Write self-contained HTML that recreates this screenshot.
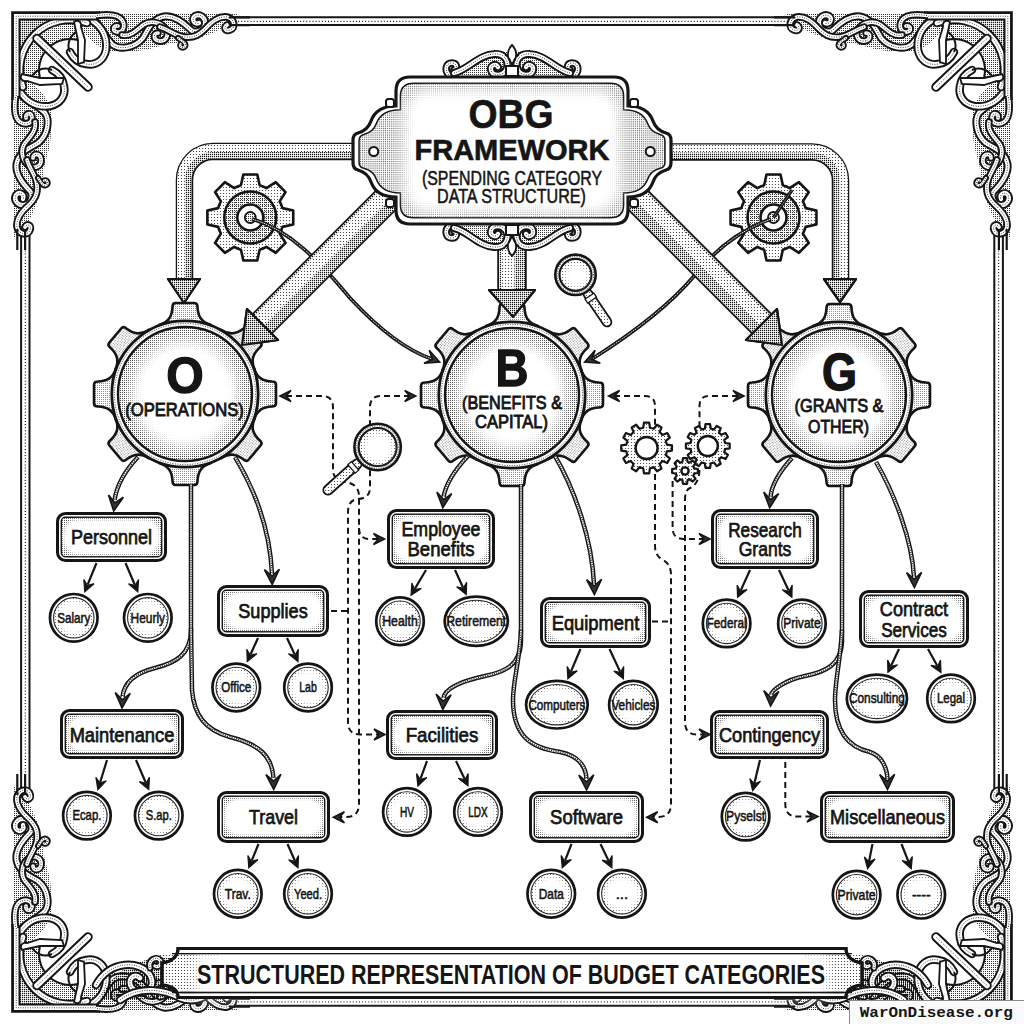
<!DOCTYPE html><html><head><meta charset="utf-8"><title>OBG Framework</title><style>html,body{margin:0;padding:0;background:#fff;overflow:hidden}svg{display:block}text{font-family:"Liberation Sans",sans-serif;fill:#151515}.bt{font-weight:bold}.bx{stroke:#151515;stroke-width:0.75}.ct{stroke:#151515;stroke-width:0.55}.md{stroke:#151515;stroke-width:0.5}.hv{font-weight:bold;stroke:#151515;stroke-width:1.3}.sb{stroke:#151515;stroke-width:0.85}.hv2{font-weight:bold;stroke:#151515;stroke-width:0.6}.wm{font-family:"Liberation Mono",monospace;font-weight:bold}</style></head><body>
<svg width="1024" height="1024" viewBox="0 0 1024 1024">
<defs>
<pattern id="dotsC" width="3" height="3" patternUnits="userSpaceOnUse"><circle cx="1.5" cy="1.5" r="0.6" fill="#222"/></pattern>
<pattern id="dotsP" width="2" height="2" patternUnits="userSpaceOnUse"><circle cx="0.5" cy="0.5" r="0.66" fill="#1a1a1a"/></pattern>
<pattern id="dotsB" width="2" height="2" patternUnits="userSpaceOnUse"><circle cx="0.5" cy="0.5" r="0.5" fill="#222"/></pattern>
<pattern id="dotsF" width="2" height="2" patternUnits="userSpaceOnUse"><circle cx="0.5" cy="0.5" r="0.52" fill="#222"/></pattern>
<pattern id="dotsT" width="2" height="2" patternUnits="userSpaceOnUse"><circle cx="0.5" cy="0.5" r="0.46" fill="#222"/></pattern>
<pattern id="dotsD" width="2" height="2" patternUnits="userSpaceOnUse"><circle cx="0.5" cy="0.5" r="0.78" fill="#111"/></pattern>
<clipPath id="cornerClip"><path d="M0 0 L150 0 L0 150 Z"/></clipPath>
<pattern id="dotsM" width="2" height="2" patternUnits="userSpaceOnUse"><circle cx="0.5" cy="0.5" r="0.56" fill="#222"/></pattern>
<pattern id="dotsL" width="3" height="3" patternUnits="userSpaceOnUse"><circle cx="1.5" cy="1.5" r="0.62" fill="#333"/></pattern>
<filter id="bl15" x="-40%" y="-40%" width="180%" height="180%"><feGaussianBlur stdDeviation="1.5"/></filter>
<filter id="bl2" x="-40%" y="-40%" width="180%" height="180%"><feGaussianBlur stdDeviation="2"/></filter>
<filter id="bl3" x="-40%" y="-40%" width="180%" height="180%"><feGaussianBlur stdDeviation="3"/></filter>
<filter id="bl6" x="-40%" y="-40%" width="180%" height="180%"><feGaussianBlur stdDeviation="6"/></filter>
<filter id="bl9" x="-40%" y="-40%" width="180%" height="180%"><feGaussianBlur stdDeviation="9"/></filter>
</defs>
<rect width="1024" height="1024" fill="#fff"/>
<g fill="none" stroke="#151515">
<line x1="235" y1="17.3" x2="789" y2="17.3" stroke-width="2"/><line x1="235" y1="25.1" x2="789" y2="25.1" stroke-width="2"/>
<line x1="235" y1="21.3" x2="789" y2="21.3" stroke-width="1.2" stroke-dasharray="1 2.1"/>
<line x1="21.1" y1="235" x2="21.1" y2="789" stroke-width="2"/><line x1="29.5" y1="235" x2="29.5" y2="789" stroke-width="2"/>
<line x1="25.3" y1="235" x2="25.3" y2="789" stroke-width="1.2" stroke-dasharray="1 2.1"/>
<line x1="1002.9" y1="235" x2="1002.9" y2="789" stroke-width="2"/><line x1="994.3" y1="235" x2="994.3" y2="789" stroke-width="2"/>
<line x1="998.6" y1="235" x2="998.6" y2="789" stroke-width="1.2" stroke-dasharray="1 2.1"/>
<line x1="235" y1="1005.8" x2="789" y2="1005.8" stroke-width="2"/><line x1="235" y1="997.4" x2="789" y2="997.4" stroke-width="2.4"/>
<line x1="235" y1="1001.8" x2="789" y2="1001.8" stroke-width="1.2" stroke-dasharray="1 2.1"/>
</g>
<g><g><path d="M14 14 L238 14 C232 22 222 30 205 36 C190 42 175 42 160 46 C145 51 125 53 110 51 C98 49 92 40 82 32 L60 22 Z" fill="url(#dotsM)"/>
<path d="M60 16.5 C75 16 85 16 90 17 C100 22 105 38 113 45 C120 50 135 48 143 38 C149 28 152 19 164 16.5 C175 15 185 24 191 30 C196 34 204 30 205 24 C206 18 200 13 195 16 C191 19 194 25 199 23" stroke="#151515" stroke-width="8" fill="none" stroke-linecap="round"/><path d="M60 16.5 C75 16 85 16 90 17 C100 22 105 38 113 45 C120 50 135 48 143 38 C149 28 152 19 164 16.5 C175 15 185 24 191 30 C196 34 204 30 205 24 C206 18 200 13 195 16 C191 19 194 25 199 23" stroke="#fff" stroke-width="4.2" fill="none" stroke-linecap="round"/><path d="M60 16.5 C75 16 85 16 90 17 C100 22 105 38 113 45 C120 50 135 48 143 38 C149 28 152 19 164 16.5 C175 15 185 24 191 30 C196 34 204 30 205 24 C206 18 200 13 195 16 C191 19 194 25 199 23" stroke="#151515" stroke-width="0.9" fill="none" stroke-dasharray="0.9 1.5"/>
<path d="M97 15.5 C108 14 118 14 122 20 C126 26 123 33 117 32 C112 31 113 25 118 26" stroke="#151515" stroke-width="7.5" fill="none" stroke-linecap="round"/><path d="M97 15.5 C108 14 118 14 122 20 C126 26 123 33 117 32 C112 31 113 25 118 26" stroke="#fff" stroke-width="3.7" fill="none" stroke-linecap="round"/><path d="M97 15.5 C108 14 118 14 122 20 C126 26 123 33 117 32 C112 31 113 25 118 26" stroke="#151515" stroke-width="0.9" fill="none" stroke-dasharray="0.9 1.5"/>
<path d="M122 35 C130 37 137 30 143 25 C150 20 160 22 165 28 C170 35 166 42 159 41 C153 40 153 33 158 33" stroke="#151515" stroke-width="7.5" fill="none" stroke-linecap="round"/><path d="M122 35 C130 37 137 30 143 25 C150 20 160 22 165 28 C170 35 166 42 159 41 C153 40 153 33 158 33" stroke="#fff" stroke-width="3.7" fill="none" stroke-linecap="round"/><path d="M122 35 C130 37 137 30 143 25 C150 20 160 22 165 28 C170 35 166 42 159 41 C153 40 153 33 158 33" stroke="#151515" stroke-width="0.9" fill="none" stroke-dasharray="0.9 1.5"/>
<path d="M160 27 C170 30 175 36 185 37 C195 38 200 34 205 29 C212 21 220 16 227 17 C235 19 236 28 230 30 C225 32 223 27 227 25" stroke="#151515" stroke-width="7.5" fill="none" stroke-linecap="round"/><path d="M160 27 C170 30 175 36 185 37 C195 38 200 34 205 29 C212 21 220 16 227 17 C235 19 236 28 230 30 C225 32 223 27 227 25" stroke="#fff" stroke-width="3.7" fill="none" stroke-linecap="round"/><path d="M160 27 C170 30 175 36 185 37 C195 38 200 34 205 29 C212 21 220 16 227 17 C235 19 236 28 230 30 C225 32 223 27 227 25" stroke="#151515" stroke-width="0.9" fill="none" stroke-dasharray="0.9 1.5"/>
<path d="M178 38 C182 41 187 43 185 46.5 C183 49 179 47 180.5 44" stroke="#151515" stroke-width="6" fill="none" stroke-linecap="round"/><path d="M178 38 C182 41 187 43 185 46.5 C183 49 179 47 180.5 44" stroke="#fff" stroke-width="2.2" fill="none" stroke-linecap="round"/><path d="M178 38 C182 41 187 43 185 46.5 C183 49 179 47 180.5 44" stroke="#151515" stroke-width="0.9" fill="none" stroke-dasharray="0.9 1.5"/>
<path d="M229 17.3 L250 17.3 M229 25.1 L250 25.1" stroke="#151515" stroke-width="2.2"/></g>
<g transform="matrix(0 1 1 0 0 0)"><path d="M14 14 L238 14 C232 22 222 30 205 36 C190 42 175 42 160 46 C145 51 125 53 110 51 C98 49 92 40 82 32 L60 22 Z" fill="url(#dotsM)"/>
<path d="M60 16.5 C75 16 85 16 90 17 C100 22 105 38 113 45 C120 50 135 48 143 38 C149 28 152 19 164 16.5 C175 15 185 24 191 30 C196 34 204 30 205 24 C206 18 200 13 195 16 C191 19 194 25 199 23" stroke="#151515" stroke-width="8" fill="none" stroke-linecap="round"/><path d="M60 16.5 C75 16 85 16 90 17 C100 22 105 38 113 45 C120 50 135 48 143 38 C149 28 152 19 164 16.5 C175 15 185 24 191 30 C196 34 204 30 205 24 C206 18 200 13 195 16 C191 19 194 25 199 23" stroke="#fff" stroke-width="4.2" fill="none" stroke-linecap="round"/><path d="M60 16.5 C75 16 85 16 90 17 C100 22 105 38 113 45 C120 50 135 48 143 38 C149 28 152 19 164 16.5 C175 15 185 24 191 30 C196 34 204 30 205 24 C206 18 200 13 195 16 C191 19 194 25 199 23" stroke="#151515" stroke-width="0.9" fill="none" stroke-dasharray="0.9 1.5"/>
<path d="M97 15.5 C108 14 118 14 122 20 C126 26 123 33 117 32 C112 31 113 25 118 26" stroke="#151515" stroke-width="7.5" fill="none" stroke-linecap="round"/><path d="M97 15.5 C108 14 118 14 122 20 C126 26 123 33 117 32 C112 31 113 25 118 26" stroke="#fff" stroke-width="3.7" fill="none" stroke-linecap="round"/><path d="M97 15.5 C108 14 118 14 122 20 C126 26 123 33 117 32 C112 31 113 25 118 26" stroke="#151515" stroke-width="0.9" fill="none" stroke-dasharray="0.9 1.5"/>
<path d="M122 35 C130 37 137 30 143 25 C150 20 160 22 165 28 C170 35 166 42 159 41 C153 40 153 33 158 33" stroke="#151515" stroke-width="7.5" fill="none" stroke-linecap="round"/><path d="M122 35 C130 37 137 30 143 25 C150 20 160 22 165 28 C170 35 166 42 159 41 C153 40 153 33 158 33" stroke="#fff" stroke-width="3.7" fill="none" stroke-linecap="round"/><path d="M122 35 C130 37 137 30 143 25 C150 20 160 22 165 28 C170 35 166 42 159 41 C153 40 153 33 158 33" stroke="#151515" stroke-width="0.9" fill="none" stroke-dasharray="0.9 1.5"/>
<path d="M160 27 C170 30 175 36 185 37 C195 38 200 34 205 29 C212 21 220 16 227 17 C235 19 236 28 230 30 C225 32 223 27 227 25" stroke="#151515" stroke-width="7.5" fill="none" stroke-linecap="round"/><path d="M160 27 C170 30 175 36 185 37 C195 38 200 34 205 29 C212 21 220 16 227 17 C235 19 236 28 230 30 C225 32 223 27 227 25" stroke="#fff" stroke-width="3.7" fill="none" stroke-linecap="round"/><path d="M160 27 C170 30 175 36 185 37 C195 38 200 34 205 29 C212 21 220 16 227 17 C235 19 236 28 230 30 C225 32 223 27 227 25" stroke="#151515" stroke-width="0.9" fill="none" stroke-dasharray="0.9 1.5"/>
<path d="M178 38 C182 41 187 43 185 46.5 C183 49 179 47 180.5 44" stroke="#151515" stroke-width="6" fill="none" stroke-linecap="round"/><path d="M178 38 C182 41 187 43 185 46.5 C183 49 179 47 180.5 44" stroke="#fff" stroke-width="2.2" fill="none" stroke-linecap="round"/><path d="M178 38 C182 41 187 43 185 46.5 C183 49 179 47 180.5 44" stroke="#151515" stroke-width="0.9" fill="none" stroke-dasharray="0.9 1.5"/>
<path d="M229 17.3 L250 17.3 M229 25.1 L250 25.1" stroke="#151515" stroke-width="2.2"/></g>
<path d="M14 14 L60 14 L60 22 C40 26 26 40 22 60 L14 60 Z" fill="url(#dotsD)"/>
<path d="M26.8 85.7 A46 46 0 0 1 85.7 26.8 L80.6 40.9 A31 31 0 0 0 40.9 80.6 Z" fill="url(#dotsM)"/>
<path d="M40.9 80.6 A31 31 0 0 1 80.6 40.9" fill="none" stroke="#151515" stroke-width="2"/>
<path d="M84 17 C100 22 108 35 106 50 C104 60 96 66 86 64 C78 63 73 58 70 52" stroke="#151515" stroke-width="8.5" fill="none" stroke-linecap="round"/><path d="M84 17 C100 22 108 35 106 50 C104 60 96 66 86 64 C78 63 73 58 70 52" stroke="#fff" stroke-width="4.7" fill="none" stroke-linecap="round"/><path d="M84 17 C100 22 108 35 106 50 C104 60 96 66 86 64 C78 63 73 58 70 52" stroke="#151515" stroke-width="0.9" fill="none" stroke-dasharray="0.9 1.5"/>
<path d="M17 84 C22 100 35 108 50 106 C60 104 66 96 64 86 C63 78 58 73 52 70" stroke="#151515" stroke-width="8.5" fill="none" stroke-linecap="round"/><path d="M17 84 C22 100 35 108 50 106 C60 104 66 96 64 86 C63 78 58 73 52 70" stroke="#fff" stroke-width="4.7" fill="none" stroke-linecap="round"/><path d="M17 84 C22 100 35 108 50 106 C60 104 66 96 64 86 C63 78 58 73 52 70" stroke="#151515" stroke-width="0.9" fill="none" stroke-dasharray="0.9 1.5"/>
<path d="M70 52 C66 44 70 34 80 30" fill="none" stroke="#151515" stroke-width="2"/>
<path d="M52 70 C44 66 34 70 30 80" fill="none" stroke="#151515" stroke-width="2"/>
<path d="M23.0 87.1 A50 50 0 0 1 87.1 23.0" stroke="#151515" stroke-width="8.5" fill="none" stroke-linecap="round"/><path d="M23.0 87.1 A50 50 0 0 1 87.1 23.0" stroke="#fff" stroke-width="4.7" fill="none" stroke-linecap="round"/><path d="M23.0 87.1 A50 50 0 0 1 87.1 23.0" stroke="#151515" stroke-width="0.9" fill="none" stroke-dasharray="0.9 1.5"/>
<path d="M16.2 96 L16.2 16.2 L96 16.2" fill="none" stroke="#151515" stroke-width="8.6"/>
<path d="M16.2 96 L16.2 16.2 L96 16.2" fill="none" stroke="#fff" stroke-width="4.6"/>
<path d="M16.2 96 L16.2 16.2 L96 16.2" fill="none" stroke="#151515" stroke-width="0.9" stroke-dasharray="0.9 1.5"/>
<path d="M74 22 C78 19 82 22 81 27 L85 40 L84 62 L78 64 L78 40 Z" fill="#fff" stroke="#151515" stroke-width="1.8"/>
<path d="M22 74 C19 78 22 82 27 81 L40 85 L62 84 L64 78 L40 78 Z" fill="#fff" stroke="#151515" stroke-width="1.8"/>
<line x1="37" y1="38.5" x2="88" y2="87" stroke="#151515" stroke-width="9.5" stroke-linecap="round"/>
<line x1="37" y1="38.5" x2="88" y2="87" stroke="#fff" stroke-width="5.6" stroke-linecap="round"/>
<line x1="37" y1="38.5" x2="88" y2="87" stroke="#151515" stroke-width="0.8" stroke-dasharray="0.9 1.5"/>
<path d="M12.4 100 L12.4 12.4 L100 12.4" fill="none" stroke="#151515" stroke-width="2.4"/></g>
<g transform="translate(1024 0) scale(-1 1)"><g><path d="M14 14 L238 14 C232 22 222 30 205 36 C190 42 175 42 160 46 C145 51 125 53 110 51 C98 49 92 40 82 32 L60 22 Z" fill="url(#dotsM)"/>
<path d="M60 16.5 C75 16 85 16 90 17 C100 22 105 38 113 45 C120 50 135 48 143 38 C149 28 152 19 164 16.5 C175 15 185 24 191 30 C196 34 204 30 205 24 C206 18 200 13 195 16 C191 19 194 25 199 23" stroke="#151515" stroke-width="8" fill="none" stroke-linecap="round"/><path d="M60 16.5 C75 16 85 16 90 17 C100 22 105 38 113 45 C120 50 135 48 143 38 C149 28 152 19 164 16.5 C175 15 185 24 191 30 C196 34 204 30 205 24 C206 18 200 13 195 16 C191 19 194 25 199 23" stroke="#fff" stroke-width="4.2" fill="none" stroke-linecap="round"/><path d="M60 16.5 C75 16 85 16 90 17 C100 22 105 38 113 45 C120 50 135 48 143 38 C149 28 152 19 164 16.5 C175 15 185 24 191 30 C196 34 204 30 205 24 C206 18 200 13 195 16 C191 19 194 25 199 23" stroke="#151515" stroke-width="0.9" fill="none" stroke-dasharray="0.9 1.5"/>
<path d="M97 15.5 C108 14 118 14 122 20 C126 26 123 33 117 32 C112 31 113 25 118 26" stroke="#151515" stroke-width="7.5" fill="none" stroke-linecap="round"/><path d="M97 15.5 C108 14 118 14 122 20 C126 26 123 33 117 32 C112 31 113 25 118 26" stroke="#fff" stroke-width="3.7" fill="none" stroke-linecap="round"/><path d="M97 15.5 C108 14 118 14 122 20 C126 26 123 33 117 32 C112 31 113 25 118 26" stroke="#151515" stroke-width="0.9" fill="none" stroke-dasharray="0.9 1.5"/>
<path d="M122 35 C130 37 137 30 143 25 C150 20 160 22 165 28 C170 35 166 42 159 41 C153 40 153 33 158 33" stroke="#151515" stroke-width="7.5" fill="none" stroke-linecap="round"/><path d="M122 35 C130 37 137 30 143 25 C150 20 160 22 165 28 C170 35 166 42 159 41 C153 40 153 33 158 33" stroke="#fff" stroke-width="3.7" fill="none" stroke-linecap="round"/><path d="M122 35 C130 37 137 30 143 25 C150 20 160 22 165 28 C170 35 166 42 159 41 C153 40 153 33 158 33" stroke="#151515" stroke-width="0.9" fill="none" stroke-dasharray="0.9 1.5"/>
<path d="M160 27 C170 30 175 36 185 37 C195 38 200 34 205 29 C212 21 220 16 227 17 C235 19 236 28 230 30 C225 32 223 27 227 25" stroke="#151515" stroke-width="7.5" fill="none" stroke-linecap="round"/><path d="M160 27 C170 30 175 36 185 37 C195 38 200 34 205 29 C212 21 220 16 227 17 C235 19 236 28 230 30 C225 32 223 27 227 25" stroke="#fff" stroke-width="3.7" fill="none" stroke-linecap="round"/><path d="M160 27 C170 30 175 36 185 37 C195 38 200 34 205 29 C212 21 220 16 227 17 C235 19 236 28 230 30 C225 32 223 27 227 25" stroke="#151515" stroke-width="0.9" fill="none" stroke-dasharray="0.9 1.5"/>
<path d="M178 38 C182 41 187 43 185 46.5 C183 49 179 47 180.5 44" stroke="#151515" stroke-width="6" fill="none" stroke-linecap="round"/><path d="M178 38 C182 41 187 43 185 46.5 C183 49 179 47 180.5 44" stroke="#fff" stroke-width="2.2" fill="none" stroke-linecap="round"/><path d="M178 38 C182 41 187 43 185 46.5 C183 49 179 47 180.5 44" stroke="#151515" stroke-width="0.9" fill="none" stroke-dasharray="0.9 1.5"/>
<path d="M229 17.3 L250 17.3 M229 25.1 L250 25.1" stroke="#151515" stroke-width="2.2"/></g>
<g transform="matrix(0 1 1 0 0 0)"><path d="M14 14 L238 14 C232 22 222 30 205 36 C190 42 175 42 160 46 C145 51 125 53 110 51 C98 49 92 40 82 32 L60 22 Z" fill="url(#dotsM)"/>
<path d="M60 16.5 C75 16 85 16 90 17 C100 22 105 38 113 45 C120 50 135 48 143 38 C149 28 152 19 164 16.5 C175 15 185 24 191 30 C196 34 204 30 205 24 C206 18 200 13 195 16 C191 19 194 25 199 23" stroke="#151515" stroke-width="8" fill="none" stroke-linecap="round"/><path d="M60 16.5 C75 16 85 16 90 17 C100 22 105 38 113 45 C120 50 135 48 143 38 C149 28 152 19 164 16.5 C175 15 185 24 191 30 C196 34 204 30 205 24 C206 18 200 13 195 16 C191 19 194 25 199 23" stroke="#fff" stroke-width="4.2" fill="none" stroke-linecap="round"/><path d="M60 16.5 C75 16 85 16 90 17 C100 22 105 38 113 45 C120 50 135 48 143 38 C149 28 152 19 164 16.5 C175 15 185 24 191 30 C196 34 204 30 205 24 C206 18 200 13 195 16 C191 19 194 25 199 23" stroke="#151515" stroke-width="0.9" fill="none" stroke-dasharray="0.9 1.5"/>
<path d="M97 15.5 C108 14 118 14 122 20 C126 26 123 33 117 32 C112 31 113 25 118 26" stroke="#151515" stroke-width="7.5" fill="none" stroke-linecap="round"/><path d="M97 15.5 C108 14 118 14 122 20 C126 26 123 33 117 32 C112 31 113 25 118 26" stroke="#fff" stroke-width="3.7" fill="none" stroke-linecap="round"/><path d="M97 15.5 C108 14 118 14 122 20 C126 26 123 33 117 32 C112 31 113 25 118 26" stroke="#151515" stroke-width="0.9" fill="none" stroke-dasharray="0.9 1.5"/>
<path d="M122 35 C130 37 137 30 143 25 C150 20 160 22 165 28 C170 35 166 42 159 41 C153 40 153 33 158 33" stroke="#151515" stroke-width="7.5" fill="none" stroke-linecap="round"/><path d="M122 35 C130 37 137 30 143 25 C150 20 160 22 165 28 C170 35 166 42 159 41 C153 40 153 33 158 33" stroke="#fff" stroke-width="3.7" fill="none" stroke-linecap="round"/><path d="M122 35 C130 37 137 30 143 25 C150 20 160 22 165 28 C170 35 166 42 159 41 C153 40 153 33 158 33" stroke="#151515" stroke-width="0.9" fill="none" stroke-dasharray="0.9 1.5"/>
<path d="M160 27 C170 30 175 36 185 37 C195 38 200 34 205 29 C212 21 220 16 227 17 C235 19 236 28 230 30 C225 32 223 27 227 25" stroke="#151515" stroke-width="7.5" fill="none" stroke-linecap="round"/><path d="M160 27 C170 30 175 36 185 37 C195 38 200 34 205 29 C212 21 220 16 227 17 C235 19 236 28 230 30 C225 32 223 27 227 25" stroke="#fff" stroke-width="3.7" fill="none" stroke-linecap="round"/><path d="M160 27 C170 30 175 36 185 37 C195 38 200 34 205 29 C212 21 220 16 227 17 C235 19 236 28 230 30 C225 32 223 27 227 25" stroke="#151515" stroke-width="0.9" fill="none" stroke-dasharray="0.9 1.5"/>
<path d="M178 38 C182 41 187 43 185 46.5 C183 49 179 47 180.5 44" stroke="#151515" stroke-width="6" fill="none" stroke-linecap="round"/><path d="M178 38 C182 41 187 43 185 46.5 C183 49 179 47 180.5 44" stroke="#fff" stroke-width="2.2" fill="none" stroke-linecap="round"/><path d="M178 38 C182 41 187 43 185 46.5 C183 49 179 47 180.5 44" stroke="#151515" stroke-width="0.9" fill="none" stroke-dasharray="0.9 1.5"/>
<path d="M229 17.3 L250 17.3 M229 25.1 L250 25.1" stroke="#151515" stroke-width="2.2"/></g>
<path d="M14 14 L60 14 L60 22 C40 26 26 40 22 60 L14 60 Z" fill="url(#dotsD)"/>
<path d="M26.8 85.7 A46 46 0 0 1 85.7 26.8 L80.6 40.9 A31 31 0 0 0 40.9 80.6 Z" fill="url(#dotsM)"/>
<path d="M40.9 80.6 A31 31 0 0 1 80.6 40.9" fill="none" stroke="#151515" stroke-width="2"/>
<path d="M84 17 C100 22 108 35 106 50 C104 60 96 66 86 64 C78 63 73 58 70 52" stroke="#151515" stroke-width="8.5" fill="none" stroke-linecap="round"/><path d="M84 17 C100 22 108 35 106 50 C104 60 96 66 86 64 C78 63 73 58 70 52" stroke="#fff" stroke-width="4.7" fill="none" stroke-linecap="round"/><path d="M84 17 C100 22 108 35 106 50 C104 60 96 66 86 64 C78 63 73 58 70 52" stroke="#151515" stroke-width="0.9" fill="none" stroke-dasharray="0.9 1.5"/>
<path d="M17 84 C22 100 35 108 50 106 C60 104 66 96 64 86 C63 78 58 73 52 70" stroke="#151515" stroke-width="8.5" fill="none" stroke-linecap="round"/><path d="M17 84 C22 100 35 108 50 106 C60 104 66 96 64 86 C63 78 58 73 52 70" stroke="#fff" stroke-width="4.7" fill="none" stroke-linecap="round"/><path d="M17 84 C22 100 35 108 50 106 C60 104 66 96 64 86 C63 78 58 73 52 70" stroke="#151515" stroke-width="0.9" fill="none" stroke-dasharray="0.9 1.5"/>
<path d="M70 52 C66 44 70 34 80 30" fill="none" stroke="#151515" stroke-width="2"/>
<path d="M52 70 C44 66 34 70 30 80" fill="none" stroke="#151515" stroke-width="2"/>
<path d="M23.0 87.1 A50 50 0 0 1 87.1 23.0" stroke="#151515" stroke-width="8.5" fill="none" stroke-linecap="round"/><path d="M23.0 87.1 A50 50 0 0 1 87.1 23.0" stroke="#fff" stroke-width="4.7" fill="none" stroke-linecap="round"/><path d="M23.0 87.1 A50 50 0 0 1 87.1 23.0" stroke="#151515" stroke-width="0.9" fill="none" stroke-dasharray="0.9 1.5"/>
<path d="M16.2 96 L16.2 16.2 L96 16.2" fill="none" stroke="#151515" stroke-width="8.6"/>
<path d="M16.2 96 L16.2 16.2 L96 16.2" fill="none" stroke="#fff" stroke-width="4.6"/>
<path d="M16.2 96 L16.2 16.2 L96 16.2" fill="none" stroke="#151515" stroke-width="0.9" stroke-dasharray="0.9 1.5"/>
<path d="M74 22 C78 19 82 22 81 27 L85 40 L84 62 L78 64 L78 40 Z" fill="#fff" stroke="#151515" stroke-width="1.8"/>
<path d="M22 74 C19 78 22 82 27 81 L40 85 L62 84 L64 78 L40 78 Z" fill="#fff" stroke="#151515" stroke-width="1.8"/>
<line x1="37" y1="38.5" x2="88" y2="87" stroke="#151515" stroke-width="9.5" stroke-linecap="round"/>
<line x1="37" y1="38.5" x2="88" y2="87" stroke="#fff" stroke-width="5.6" stroke-linecap="round"/>
<line x1="37" y1="38.5" x2="88" y2="87" stroke="#151515" stroke-width="0.8" stroke-dasharray="0.9 1.5"/>
<path d="M12.4 100 L12.4 12.4 L100 12.4" fill="none" stroke="#151515" stroke-width="2.4"/></g>
<g transform="translate(0 1024) scale(1 -1)"><g><path d="M14 14 L238 14 C232 22 222 30 205 36 C190 42 175 42 160 46 C145 51 125 53 110 51 C98 49 92 40 82 32 L60 22 Z" fill="url(#dotsM)"/>
<path d="M60 16.5 C75 16 85 16 90 17 C100 22 105 38 113 45 C120 50 135 48 143 38 C149 28 152 19 164 16.5 C175 15 185 24 191 30 C196 34 204 30 205 24 C206 18 200 13 195 16 C191 19 194 25 199 23" stroke="#151515" stroke-width="8" fill="none" stroke-linecap="round"/><path d="M60 16.5 C75 16 85 16 90 17 C100 22 105 38 113 45 C120 50 135 48 143 38 C149 28 152 19 164 16.5 C175 15 185 24 191 30 C196 34 204 30 205 24 C206 18 200 13 195 16 C191 19 194 25 199 23" stroke="#fff" stroke-width="4.2" fill="none" stroke-linecap="round"/><path d="M60 16.5 C75 16 85 16 90 17 C100 22 105 38 113 45 C120 50 135 48 143 38 C149 28 152 19 164 16.5 C175 15 185 24 191 30 C196 34 204 30 205 24 C206 18 200 13 195 16 C191 19 194 25 199 23" stroke="#151515" stroke-width="0.9" fill="none" stroke-dasharray="0.9 1.5"/>
<path d="M97 15.5 C108 14 118 14 122 20 C126 26 123 33 117 32 C112 31 113 25 118 26" stroke="#151515" stroke-width="7.5" fill="none" stroke-linecap="round"/><path d="M97 15.5 C108 14 118 14 122 20 C126 26 123 33 117 32 C112 31 113 25 118 26" stroke="#fff" stroke-width="3.7" fill="none" stroke-linecap="round"/><path d="M97 15.5 C108 14 118 14 122 20 C126 26 123 33 117 32 C112 31 113 25 118 26" stroke="#151515" stroke-width="0.9" fill="none" stroke-dasharray="0.9 1.5"/>
<path d="M122 35 C130 37 137 30 143 25 C150 20 160 22 165 28 C170 35 166 42 159 41 C153 40 153 33 158 33" stroke="#151515" stroke-width="7.5" fill="none" stroke-linecap="round"/><path d="M122 35 C130 37 137 30 143 25 C150 20 160 22 165 28 C170 35 166 42 159 41 C153 40 153 33 158 33" stroke="#fff" stroke-width="3.7" fill="none" stroke-linecap="round"/><path d="M122 35 C130 37 137 30 143 25 C150 20 160 22 165 28 C170 35 166 42 159 41 C153 40 153 33 158 33" stroke="#151515" stroke-width="0.9" fill="none" stroke-dasharray="0.9 1.5"/>
<path d="M160 27 C170 30 175 36 185 37 C195 38 200 34 205 29 C212 21 220 16 227 17 C235 19 236 28 230 30 C225 32 223 27 227 25" stroke="#151515" stroke-width="7.5" fill="none" stroke-linecap="round"/><path d="M160 27 C170 30 175 36 185 37 C195 38 200 34 205 29 C212 21 220 16 227 17 C235 19 236 28 230 30 C225 32 223 27 227 25" stroke="#fff" stroke-width="3.7" fill="none" stroke-linecap="round"/><path d="M160 27 C170 30 175 36 185 37 C195 38 200 34 205 29 C212 21 220 16 227 17 C235 19 236 28 230 30 C225 32 223 27 227 25" stroke="#151515" stroke-width="0.9" fill="none" stroke-dasharray="0.9 1.5"/>
<path d="M178 38 C182 41 187 43 185 46.5 C183 49 179 47 180.5 44" stroke="#151515" stroke-width="6" fill="none" stroke-linecap="round"/><path d="M178 38 C182 41 187 43 185 46.5 C183 49 179 47 180.5 44" stroke="#fff" stroke-width="2.2" fill="none" stroke-linecap="round"/><path d="M178 38 C182 41 187 43 185 46.5 C183 49 179 47 180.5 44" stroke="#151515" stroke-width="0.9" fill="none" stroke-dasharray="0.9 1.5"/>
<path d="M229 17.3 L250 17.3 M229 25.1 L250 25.1" stroke="#151515" stroke-width="2.2"/></g>
<g transform="matrix(0 1 1 0 0 0)"><path d="M14 14 L238 14 C232 22 222 30 205 36 C190 42 175 42 160 46 C145 51 125 53 110 51 C98 49 92 40 82 32 L60 22 Z" fill="url(#dotsM)"/>
<path d="M60 16.5 C75 16 85 16 90 17 C100 22 105 38 113 45 C120 50 135 48 143 38 C149 28 152 19 164 16.5 C175 15 185 24 191 30 C196 34 204 30 205 24 C206 18 200 13 195 16 C191 19 194 25 199 23" stroke="#151515" stroke-width="8" fill="none" stroke-linecap="round"/><path d="M60 16.5 C75 16 85 16 90 17 C100 22 105 38 113 45 C120 50 135 48 143 38 C149 28 152 19 164 16.5 C175 15 185 24 191 30 C196 34 204 30 205 24 C206 18 200 13 195 16 C191 19 194 25 199 23" stroke="#fff" stroke-width="4.2" fill="none" stroke-linecap="round"/><path d="M60 16.5 C75 16 85 16 90 17 C100 22 105 38 113 45 C120 50 135 48 143 38 C149 28 152 19 164 16.5 C175 15 185 24 191 30 C196 34 204 30 205 24 C206 18 200 13 195 16 C191 19 194 25 199 23" stroke="#151515" stroke-width="0.9" fill="none" stroke-dasharray="0.9 1.5"/>
<path d="M97 15.5 C108 14 118 14 122 20 C126 26 123 33 117 32 C112 31 113 25 118 26" stroke="#151515" stroke-width="7.5" fill="none" stroke-linecap="round"/><path d="M97 15.5 C108 14 118 14 122 20 C126 26 123 33 117 32 C112 31 113 25 118 26" stroke="#fff" stroke-width="3.7" fill="none" stroke-linecap="round"/><path d="M97 15.5 C108 14 118 14 122 20 C126 26 123 33 117 32 C112 31 113 25 118 26" stroke="#151515" stroke-width="0.9" fill="none" stroke-dasharray="0.9 1.5"/>
<path d="M122 35 C130 37 137 30 143 25 C150 20 160 22 165 28 C170 35 166 42 159 41 C153 40 153 33 158 33" stroke="#151515" stroke-width="7.5" fill="none" stroke-linecap="round"/><path d="M122 35 C130 37 137 30 143 25 C150 20 160 22 165 28 C170 35 166 42 159 41 C153 40 153 33 158 33" stroke="#fff" stroke-width="3.7" fill="none" stroke-linecap="round"/><path d="M122 35 C130 37 137 30 143 25 C150 20 160 22 165 28 C170 35 166 42 159 41 C153 40 153 33 158 33" stroke="#151515" stroke-width="0.9" fill="none" stroke-dasharray="0.9 1.5"/>
<path d="M160 27 C170 30 175 36 185 37 C195 38 200 34 205 29 C212 21 220 16 227 17 C235 19 236 28 230 30 C225 32 223 27 227 25" stroke="#151515" stroke-width="7.5" fill="none" stroke-linecap="round"/><path d="M160 27 C170 30 175 36 185 37 C195 38 200 34 205 29 C212 21 220 16 227 17 C235 19 236 28 230 30 C225 32 223 27 227 25" stroke="#fff" stroke-width="3.7" fill="none" stroke-linecap="round"/><path d="M160 27 C170 30 175 36 185 37 C195 38 200 34 205 29 C212 21 220 16 227 17 C235 19 236 28 230 30 C225 32 223 27 227 25" stroke="#151515" stroke-width="0.9" fill="none" stroke-dasharray="0.9 1.5"/>
<path d="M178 38 C182 41 187 43 185 46.5 C183 49 179 47 180.5 44" stroke="#151515" stroke-width="6" fill="none" stroke-linecap="round"/><path d="M178 38 C182 41 187 43 185 46.5 C183 49 179 47 180.5 44" stroke="#fff" stroke-width="2.2" fill="none" stroke-linecap="round"/><path d="M178 38 C182 41 187 43 185 46.5 C183 49 179 47 180.5 44" stroke="#151515" stroke-width="0.9" fill="none" stroke-dasharray="0.9 1.5"/>
<path d="M229 17.3 L250 17.3 M229 25.1 L250 25.1" stroke="#151515" stroke-width="2.2"/></g>
<path d="M14 14 L60 14 L60 22 C40 26 26 40 22 60 L14 60 Z" fill="url(#dotsD)"/>
<path d="M26.8 85.7 A46 46 0 0 1 85.7 26.8 L80.6 40.9 A31 31 0 0 0 40.9 80.6 Z" fill="url(#dotsM)"/>
<path d="M40.9 80.6 A31 31 0 0 1 80.6 40.9" fill="none" stroke="#151515" stroke-width="2"/>
<path d="M84 17 C100 22 108 35 106 50 C104 60 96 66 86 64 C78 63 73 58 70 52" stroke="#151515" stroke-width="8.5" fill="none" stroke-linecap="round"/><path d="M84 17 C100 22 108 35 106 50 C104 60 96 66 86 64 C78 63 73 58 70 52" stroke="#fff" stroke-width="4.7" fill="none" stroke-linecap="round"/><path d="M84 17 C100 22 108 35 106 50 C104 60 96 66 86 64 C78 63 73 58 70 52" stroke="#151515" stroke-width="0.9" fill="none" stroke-dasharray="0.9 1.5"/>
<path d="M17 84 C22 100 35 108 50 106 C60 104 66 96 64 86 C63 78 58 73 52 70" stroke="#151515" stroke-width="8.5" fill="none" stroke-linecap="round"/><path d="M17 84 C22 100 35 108 50 106 C60 104 66 96 64 86 C63 78 58 73 52 70" stroke="#fff" stroke-width="4.7" fill="none" stroke-linecap="round"/><path d="M17 84 C22 100 35 108 50 106 C60 104 66 96 64 86 C63 78 58 73 52 70" stroke="#151515" stroke-width="0.9" fill="none" stroke-dasharray="0.9 1.5"/>
<path d="M70 52 C66 44 70 34 80 30" fill="none" stroke="#151515" stroke-width="2"/>
<path d="M52 70 C44 66 34 70 30 80" fill="none" stroke="#151515" stroke-width="2"/>
<path d="M23.0 87.1 A50 50 0 0 1 87.1 23.0" stroke="#151515" stroke-width="8.5" fill="none" stroke-linecap="round"/><path d="M23.0 87.1 A50 50 0 0 1 87.1 23.0" stroke="#fff" stroke-width="4.7" fill="none" stroke-linecap="round"/><path d="M23.0 87.1 A50 50 0 0 1 87.1 23.0" stroke="#151515" stroke-width="0.9" fill="none" stroke-dasharray="0.9 1.5"/>
<path d="M16.2 96 L16.2 16.2 L96 16.2" fill="none" stroke="#151515" stroke-width="8.6"/>
<path d="M16.2 96 L16.2 16.2 L96 16.2" fill="none" stroke="#fff" stroke-width="4.6"/>
<path d="M16.2 96 L16.2 16.2 L96 16.2" fill="none" stroke="#151515" stroke-width="0.9" stroke-dasharray="0.9 1.5"/>
<path d="M74 22 C78 19 82 22 81 27 L85 40 L84 62 L78 64 L78 40 Z" fill="#fff" stroke="#151515" stroke-width="1.8"/>
<path d="M22 74 C19 78 22 82 27 81 L40 85 L62 84 L64 78 L40 78 Z" fill="#fff" stroke="#151515" stroke-width="1.8"/>
<line x1="37" y1="38.5" x2="88" y2="87" stroke="#151515" stroke-width="9.5" stroke-linecap="round"/>
<line x1="37" y1="38.5" x2="88" y2="87" stroke="#fff" stroke-width="5.6" stroke-linecap="round"/>
<line x1="37" y1="38.5" x2="88" y2="87" stroke="#151515" stroke-width="0.8" stroke-dasharray="0.9 1.5"/>
<path d="M12.4 100 L12.4 12.4 L100 12.4" fill="none" stroke="#151515" stroke-width="2.4"/></g>
<g transform="translate(1024 1024) scale(-1 -1)"><g><path d="M14 14 L238 14 C232 22 222 30 205 36 C190 42 175 42 160 46 C145 51 125 53 110 51 C98 49 92 40 82 32 L60 22 Z" fill="url(#dotsM)"/>
<path d="M60 16.5 C75 16 85 16 90 17 C100 22 105 38 113 45 C120 50 135 48 143 38 C149 28 152 19 164 16.5 C175 15 185 24 191 30 C196 34 204 30 205 24 C206 18 200 13 195 16 C191 19 194 25 199 23" stroke="#151515" stroke-width="8" fill="none" stroke-linecap="round"/><path d="M60 16.5 C75 16 85 16 90 17 C100 22 105 38 113 45 C120 50 135 48 143 38 C149 28 152 19 164 16.5 C175 15 185 24 191 30 C196 34 204 30 205 24 C206 18 200 13 195 16 C191 19 194 25 199 23" stroke="#fff" stroke-width="4.2" fill="none" stroke-linecap="round"/><path d="M60 16.5 C75 16 85 16 90 17 C100 22 105 38 113 45 C120 50 135 48 143 38 C149 28 152 19 164 16.5 C175 15 185 24 191 30 C196 34 204 30 205 24 C206 18 200 13 195 16 C191 19 194 25 199 23" stroke="#151515" stroke-width="0.9" fill="none" stroke-dasharray="0.9 1.5"/>
<path d="M97 15.5 C108 14 118 14 122 20 C126 26 123 33 117 32 C112 31 113 25 118 26" stroke="#151515" stroke-width="7.5" fill="none" stroke-linecap="round"/><path d="M97 15.5 C108 14 118 14 122 20 C126 26 123 33 117 32 C112 31 113 25 118 26" stroke="#fff" stroke-width="3.7" fill="none" stroke-linecap="round"/><path d="M97 15.5 C108 14 118 14 122 20 C126 26 123 33 117 32 C112 31 113 25 118 26" stroke="#151515" stroke-width="0.9" fill="none" stroke-dasharray="0.9 1.5"/>
<path d="M122 35 C130 37 137 30 143 25 C150 20 160 22 165 28 C170 35 166 42 159 41 C153 40 153 33 158 33" stroke="#151515" stroke-width="7.5" fill="none" stroke-linecap="round"/><path d="M122 35 C130 37 137 30 143 25 C150 20 160 22 165 28 C170 35 166 42 159 41 C153 40 153 33 158 33" stroke="#fff" stroke-width="3.7" fill="none" stroke-linecap="round"/><path d="M122 35 C130 37 137 30 143 25 C150 20 160 22 165 28 C170 35 166 42 159 41 C153 40 153 33 158 33" stroke="#151515" stroke-width="0.9" fill="none" stroke-dasharray="0.9 1.5"/>
<path d="M160 27 C170 30 175 36 185 37 C195 38 200 34 205 29 C212 21 220 16 227 17 C235 19 236 28 230 30 C225 32 223 27 227 25" stroke="#151515" stroke-width="7.5" fill="none" stroke-linecap="round"/><path d="M160 27 C170 30 175 36 185 37 C195 38 200 34 205 29 C212 21 220 16 227 17 C235 19 236 28 230 30 C225 32 223 27 227 25" stroke="#fff" stroke-width="3.7" fill="none" stroke-linecap="round"/><path d="M160 27 C170 30 175 36 185 37 C195 38 200 34 205 29 C212 21 220 16 227 17 C235 19 236 28 230 30 C225 32 223 27 227 25" stroke="#151515" stroke-width="0.9" fill="none" stroke-dasharray="0.9 1.5"/>
<path d="M178 38 C182 41 187 43 185 46.5 C183 49 179 47 180.5 44" stroke="#151515" stroke-width="6" fill="none" stroke-linecap="round"/><path d="M178 38 C182 41 187 43 185 46.5 C183 49 179 47 180.5 44" stroke="#fff" stroke-width="2.2" fill="none" stroke-linecap="round"/><path d="M178 38 C182 41 187 43 185 46.5 C183 49 179 47 180.5 44" stroke="#151515" stroke-width="0.9" fill="none" stroke-dasharray="0.9 1.5"/>
<path d="M229 17.3 L250 17.3 M229 25.1 L250 25.1" stroke="#151515" stroke-width="2.2"/></g>
<g transform="matrix(0 1 1 0 0 0)"><path d="M14 14 L238 14 C232 22 222 30 205 36 C190 42 175 42 160 46 C145 51 125 53 110 51 C98 49 92 40 82 32 L60 22 Z" fill="url(#dotsM)"/>
<path d="M60 16.5 C75 16 85 16 90 17 C100 22 105 38 113 45 C120 50 135 48 143 38 C149 28 152 19 164 16.5 C175 15 185 24 191 30 C196 34 204 30 205 24 C206 18 200 13 195 16 C191 19 194 25 199 23" stroke="#151515" stroke-width="8" fill="none" stroke-linecap="round"/><path d="M60 16.5 C75 16 85 16 90 17 C100 22 105 38 113 45 C120 50 135 48 143 38 C149 28 152 19 164 16.5 C175 15 185 24 191 30 C196 34 204 30 205 24 C206 18 200 13 195 16 C191 19 194 25 199 23" stroke="#fff" stroke-width="4.2" fill="none" stroke-linecap="round"/><path d="M60 16.5 C75 16 85 16 90 17 C100 22 105 38 113 45 C120 50 135 48 143 38 C149 28 152 19 164 16.5 C175 15 185 24 191 30 C196 34 204 30 205 24 C206 18 200 13 195 16 C191 19 194 25 199 23" stroke="#151515" stroke-width="0.9" fill="none" stroke-dasharray="0.9 1.5"/>
<path d="M97 15.5 C108 14 118 14 122 20 C126 26 123 33 117 32 C112 31 113 25 118 26" stroke="#151515" stroke-width="7.5" fill="none" stroke-linecap="round"/><path d="M97 15.5 C108 14 118 14 122 20 C126 26 123 33 117 32 C112 31 113 25 118 26" stroke="#fff" stroke-width="3.7" fill="none" stroke-linecap="round"/><path d="M97 15.5 C108 14 118 14 122 20 C126 26 123 33 117 32 C112 31 113 25 118 26" stroke="#151515" stroke-width="0.9" fill="none" stroke-dasharray="0.9 1.5"/>
<path d="M122 35 C130 37 137 30 143 25 C150 20 160 22 165 28 C170 35 166 42 159 41 C153 40 153 33 158 33" stroke="#151515" stroke-width="7.5" fill="none" stroke-linecap="round"/><path d="M122 35 C130 37 137 30 143 25 C150 20 160 22 165 28 C170 35 166 42 159 41 C153 40 153 33 158 33" stroke="#fff" stroke-width="3.7" fill="none" stroke-linecap="round"/><path d="M122 35 C130 37 137 30 143 25 C150 20 160 22 165 28 C170 35 166 42 159 41 C153 40 153 33 158 33" stroke="#151515" stroke-width="0.9" fill="none" stroke-dasharray="0.9 1.5"/>
<path d="M160 27 C170 30 175 36 185 37 C195 38 200 34 205 29 C212 21 220 16 227 17 C235 19 236 28 230 30 C225 32 223 27 227 25" stroke="#151515" stroke-width="7.5" fill="none" stroke-linecap="round"/><path d="M160 27 C170 30 175 36 185 37 C195 38 200 34 205 29 C212 21 220 16 227 17 C235 19 236 28 230 30 C225 32 223 27 227 25" stroke="#fff" stroke-width="3.7" fill="none" stroke-linecap="round"/><path d="M160 27 C170 30 175 36 185 37 C195 38 200 34 205 29 C212 21 220 16 227 17 C235 19 236 28 230 30 C225 32 223 27 227 25" stroke="#151515" stroke-width="0.9" fill="none" stroke-dasharray="0.9 1.5"/>
<path d="M178 38 C182 41 187 43 185 46.5 C183 49 179 47 180.5 44" stroke="#151515" stroke-width="6" fill="none" stroke-linecap="round"/><path d="M178 38 C182 41 187 43 185 46.5 C183 49 179 47 180.5 44" stroke="#fff" stroke-width="2.2" fill="none" stroke-linecap="round"/><path d="M178 38 C182 41 187 43 185 46.5 C183 49 179 47 180.5 44" stroke="#151515" stroke-width="0.9" fill="none" stroke-dasharray="0.9 1.5"/>
<path d="M229 17.3 L250 17.3 M229 25.1 L250 25.1" stroke="#151515" stroke-width="2.2"/></g>
<path d="M14 14 L60 14 L60 22 C40 26 26 40 22 60 L14 60 Z" fill="url(#dotsD)"/>
<path d="M26.8 85.7 A46 46 0 0 1 85.7 26.8 L80.6 40.9 A31 31 0 0 0 40.9 80.6 Z" fill="url(#dotsM)"/>
<path d="M40.9 80.6 A31 31 0 0 1 80.6 40.9" fill="none" stroke="#151515" stroke-width="2"/>
<path d="M84 17 C100 22 108 35 106 50 C104 60 96 66 86 64 C78 63 73 58 70 52" stroke="#151515" stroke-width="8.5" fill="none" stroke-linecap="round"/><path d="M84 17 C100 22 108 35 106 50 C104 60 96 66 86 64 C78 63 73 58 70 52" stroke="#fff" stroke-width="4.7" fill="none" stroke-linecap="round"/><path d="M84 17 C100 22 108 35 106 50 C104 60 96 66 86 64 C78 63 73 58 70 52" stroke="#151515" stroke-width="0.9" fill="none" stroke-dasharray="0.9 1.5"/>
<path d="M17 84 C22 100 35 108 50 106 C60 104 66 96 64 86 C63 78 58 73 52 70" stroke="#151515" stroke-width="8.5" fill="none" stroke-linecap="round"/><path d="M17 84 C22 100 35 108 50 106 C60 104 66 96 64 86 C63 78 58 73 52 70" stroke="#fff" stroke-width="4.7" fill="none" stroke-linecap="round"/><path d="M17 84 C22 100 35 108 50 106 C60 104 66 96 64 86 C63 78 58 73 52 70" stroke="#151515" stroke-width="0.9" fill="none" stroke-dasharray="0.9 1.5"/>
<path d="M70 52 C66 44 70 34 80 30" fill="none" stroke="#151515" stroke-width="2"/>
<path d="M52 70 C44 66 34 70 30 80" fill="none" stroke="#151515" stroke-width="2"/>
<path d="M23.0 87.1 A50 50 0 0 1 87.1 23.0" stroke="#151515" stroke-width="8.5" fill="none" stroke-linecap="round"/><path d="M23.0 87.1 A50 50 0 0 1 87.1 23.0" stroke="#fff" stroke-width="4.7" fill="none" stroke-linecap="round"/><path d="M23.0 87.1 A50 50 0 0 1 87.1 23.0" stroke="#151515" stroke-width="0.9" fill="none" stroke-dasharray="0.9 1.5"/>
<path d="M16.2 96 L16.2 16.2 L96 16.2" fill="none" stroke="#151515" stroke-width="8.6"/>
<path d="M16.2 96 L16.2 16.2 L96 16.2" fill="none" stroke="#fff" stroke-width="4.6"/>
<path d="M16.2 96 L16.2 16.2 L96 16.2" fill="none" stroke="#151515" stroke-width="0.9" stroke-dasharray="0.9 1.5"/>
<path d="M74 22 C78 19 82 22 81 27 L85 40 L84 62 L78 64 L78 40 Z" fill="#fff" stroke="#151515" stroke-width="1.8"/>
<path d="M22 74 C19 78 22 82 27 81 L40 85 L62 84 L64 78 L40 78 Z" fill="#fff" stroke="#151515" stroke-width="1.8"/>
<line x1="37" y1="38.5" x2="88" y2="87" stroke="#151515" stroke-width="9.5" stroke-linecap="round"/>
<line x1="37" y1="38.5" x2="88" y2="87" stroke="#fff" stroke-width="5.6" stroke-linecap="round"/>
<line x1="37" y1="38.5" x2="88" y2="87" stroke="#151515" stroke-width="0.8" stroke-dasharray="0.9 1.5"/>
<path d="M12.4 100 L12.4 12.4 L100 12.4" fill="none" stroke="#151515" stroke-width="2.4"/></g>
<path d="M240.93 185.34 L243.33 174.56 L257.27 174.56 L259.67 185.34 A33.5 33.5 0 0 1 266.41 188.13 L275.73 182.21 L285.59 192.07 L279.67 201.39 A33.5 33.5 0 0 1 282.46 208.13 L293.24 210.53 L293.24 224.47 L282.46 226.87 A33.5 33.5 0 0 1 279.67 233.61 L285.59 242.93 L275.73 252.79 L266.41 246.87 A33.5 33.5 0 0 1 259.67 249.66 L257.27 260.44 L243.33 260.44 L240.93 249.66 A33.5 33.5 0 0 1 234.19 246.87 L224.87 252.79 L215.01 242.93 L220.93 233.61 A33.5 33.5 0 0 1 218.14 226.87 L207.36 224.47 L207.36 210.53 L218.14 208.13 A33.5 33.5 0 0 1 220.93 201.39 L215.01 192.07 L224.87 182.21 L234.19 188.13 A33.5 33.5 0 0 1 240.93 185.34 Z" fill="#fff"/>
<path d="M240.93 185.34 L243.33 174.56 L257.27 174.56 L259.67 185.34 A33.5 33.5 0 0 1 266.41 188.13 L275.73 182.21 L285.59 192.07 L279.67 201.39 A33.5 33.5 0 0 1 282.46 208.13 L293.24 210.53 L293.24 224.47 L282.46 226.87 A33.5 33.5 0 0 1 279.67 233.61 L285.59 242.93 L275.73 252.79 L266.41 246.87 A33.5 33.5 0 0 1 259.67 249.66 L257.27 260.44 L243.33 260.44 L240.93 249.66 A33.5 33.5 0 0 1 234.19 246.87 L224.87 252.79 L215.01 242.93 L220.93 233.61 A33.5 33.5 0 0 1 218.14 226.87 L207.36 224.47 L207.36 210.53 L218.14 208.13 A33.5 33.5 0 0 1 220.93 201.39 L215.01 192.07 L224.87 182.21 L234.19 188.13 A33.5 33.5 0 0 1 240.93 185.34 Z" fill="url(#dotsL)" stroke="#151515" stroke-width="2.6" stroke-linejoin="round"/>
<circle cx="250.3" cy="217.5" r="26" fill="url(#dotsM)" stroke="#151515" stroke-width="2.6"/>
<circle cx="250.3" cy="217.5" r="13" fill="#fff" stroke="#151515" stroke-width="2.6"/>
<circle cx="250.3" cy="217.5" r="5.5" fill="url(#dotsM)" stroke="#151515" stroke-width="1.8"/>
<path d="M764.13 185.34 L766.53 174.56 L780.47 174.56 L782.87 185.34 A33.5 33.5 0 0 1 789.61 188.13 L798.93 182.21 L808.79 192.07 L802.87 201.39 A33.5 33.5 0 0 1 805.66 208.13 L816.44 210.53 L816.44 224.47 L805.66 226.87 A33.5 33.5 0 0 1 802.87 233.61 L808.79 242.93 L798.93 252.79 L789.61 246.87 A33.5 33.5 0 0 1 782.87 249.66 L780.47 260.44 L766.53 260.44 L764.13 249.66 A33.5 33.5 0 0 1 757.39 246.87 L748.07 252.79 L738.21 242.93 L744.13 233.61 A33.5 33.5 0 0 1 741.34 226.87 L730.56 224.47 L730.56 210.53 L741.34 208.13 A33.5 33.5 0 0 1 744.13 201.39 L738.21 192.07 L748.07 182.21 L757.39 188.13 A33.5 33.5 0 0 1 764.13 185.34 Z" fill="#fff"/>
<path d="M764.13 185.34 L766.53 174.56 L780.47 174.56 L782.87 185.34 A33.5 33.5 0 0 1 789.61 188.13 L798.93 182.21 L808.79 192.07 L802.87 201.39 A33.5 33.5 0 0 1 805.66 208.13 L816.44 210.53 L816.44 224.47 L805.66 226.87 A33.5 33.5 0 0 1 802.87 233.61 L808.79 242.93 L798.93 252.79 L789.61 246.87 A33.5 33.5 0 0 1 782.87 249.66 L780.47 260.44 L766.53 260.44 L764.13 249.66 A33.5 33.5 0 0 1 757.39 246.87 L748.07 252.79 L738.21 242.93 L744.13 233.61 A33.5 33.5 0 0 1 741.34 226.87 L730.56 224.47 L730.56 210.53 L741.34 208.13 A33.5 33.5 0 0 1 744.13 201.39 L738.21 192.07 L748.07 182.21 L757.39 188.13 A33.5 33.5 0 0 1 764.13 185.34 Z" fill="url(#dotsL)" stroke="#151515" stroke-width="2.6" stroke-linejoin="round"/>
<circle cx="773.5" cy="217.5" r="26" fill="url(#dotsM)" stroke="#151515" stroke-width="2.6"/>
<circle cx="773.5" cy="217.5" r="13" fill="#fff" stroke="#151515" stroke-width="2.6"/>
<circle cx="773.5" cy="217.5" r="5.5" fill="url(#dotsM)" stroke="#151515" stroke-width="1.8"/>
<path d="M252 219 C290 230 320 262 350 298 C375 325 405 350 432 359" stroke="#151515" stroke-width="3.8" fill="none"/>
<path d="M252 219 C290 230 320 262 350 298 C375 325 405 350 432 359" stroke="#fff" stroke-width="0.9" fill="none"/>
<path d="M252 219 C290 230 320 262 350 298 C375 325 405 350 432 359" stroke="#151515" stroke-width="1.2" fill="none" stroke-dasharray="1 1.3"/>
<path d="M424 363.3 L439.6 362 L429.2 350.3 L432.45 359.14 Z" fill="#333" stroke="#151515" stroke-width="1.6" stroke-linejoin="miter"/>
<path d="M771 219 C740 230 715 250 695 275 C670 305 630 335 592 359" stroke="#151515" stroke-width="3.8" fill="none"/>
<path d="M771 219 C740 230 715 250 695 275 C670 305 630 335 592 359" stroke="#fff" stroke-width="0.9" fill="none"/>
<path d="M771 219 C740 230 715 250 695 275 C670 305 630 335 592 359" stroke="#151515" stroke-width="1.2" fill="none" stroke-dasharray="1 1.3"/>
<path d="M595.1 350.3 L584.7 362 L600.3 363.3 L591.85 359.14 Z" fill="#333" stroke="#151515" stroke-width="1.6" stroke-linejoin="miter"/>
<path d="M773.5 217.5 L792 190" stroke="#151515" stroke-width="3.4" fill="none"/>
<path d="M773.5 217.5 L792 190" stroke="#fff" stroke-width="0.5" fill="none"/>
<path d="M773.5 217.5 L792 190" stroke="#151515" stroke-width="1.2" fill="none" stroke-dasharray="1 1.3"/>
<path d="M360 151.5 L213 151.5 A28.5 28.5 0 0 0 184.5 180 L184.5 281" stroke="#151515" stroke-width="17.5" fill="none"/>
<path d="M360 151.5 L213 151.5 A28.5 28.5 0 0 0 184.5 180 L184.5 281" stroke="#fff" stroke-width="14" fill="none"/>
<path d="M360 151.5 L213 151.5 A28.5 28.5 0 0 0 184.5 180 L184.5 281" stroke="url(#dotsD)" stroke-width="14" fill="none"/>
<path d="M360 148 L213 148 A32 32 0 0 0 181 180 L181 281" stroke="#fff" stroke-width="7.82" fill="none"/>
<path d="M360 148 L213 148 A32 32 0 0 0 181 180 L181 281" stroke="url(#dotsC)" stroke-width="7.82" fill="none"/>
<path d="M168 279 L200 279 L184 303 Z" fill="#fff"/><path d="M168 279 L200 279 L184 303 Z" fill="url(#dotsD)" stroke="#151515" stroke-width="2.2" stroke-linejoin="round"/>
<path d="M664 152 L812 152 A28.5 28.5 0 0 1 840.5 180.5 L840.5 281" stroke="#151515" stroke-width="17.5" fill="none"/>
<path d="M664 152 L812 152 A28.5 28.5 0 0 1 840.5 180.5 L840.5 281" stroke="#fff" stroke-width="14" fill="none"/>
<path d="M664 152 L812 152 A28.5 28.5 0 0 1 840.5 180.5 L840.5 281" stroke="url(#dotsD)" stroke-width="14" fill="none"/>
<path d="M664 148.5 L812 148.5 A32 32 0 0 1 844 180.5 L844 281" stroke="#fff" stroke-width="7.82" fill="none"/>
<path d="M664 148.5 L812 148.5 A32 32 0 0 1 844 180.5 L844 281" stroke="url(#dotsC)" stroke-width="7.82" fill="none"/>
<path d="M824 279 L856 279 L840 302 Z" fill="#fff"/><path d="M824 279 L856 279 L840 302 Z" fill="url(#dotsD)" stroke="#151515" stroke-width="2.2" stroke-linejoin="round"/>
<path d="M400 186 L262 324" stroke="#151515" stroke-width="29" fill="none"/>
<path d="M400 186 L262 324" stroke="#fff" stroke-width="25.5" fill="none"/>
<path d="M400 186 L262 324" stroke="url(#dotsD)" stroke-width="25.5" fill="none"/>
<path d="M397 183 L259 321" stroke="#fff" stroke-width="13.11" fill="none"/>
<path d="M397 183 L259 321" stroke="url(#dotsC)" stroke-width="13.11" fill="none"/>
<path d="M247 309 L278 340 L242 345 Z" fill="#fff"/><path d="M247 309 L278 340 L242 345 Z" fill="url(#dotsD)" stroke="#151515" stroke-width="2.2" stroke-linejoin="round"/>
<path d="M624 186 L762 324" stroke="#151515" stroke-width="29" fill="none"/>
<path d="M624 186 L762 324" stroke="#fff" stroke-width="25.5" fill="none"/>
<path d="M624 186 L762 324" stroke="url(#dotsD)" stroke-width="25.5" fill="none"/>
<path d="M627 183 L765 321" stroke="#fff" stroke-width="13.11" fill="none"/>
<path d="M627 183 L765 321" stroke="url(#dotsC)" stroke-width="13.11" fill="none"/>
<path d="M777 309 L746 340 L782 345 Z" fill="#fff"/><path d="M777 309 L746 340 L782 345 Z" fill="url(#dotsD)" stroke="#151515" stroke-width="2.2" stroke-linejoin="round"/>
<path d="M512 230 L512 291" stroke="#151515" stroke-width="29.5" fill="none"/>
<path d="M512 230 L512 291" stroke="#fff" stroke-width="26" fill="none"/>
<path d="M512 230 L512 291" stroke="url(#dotsD)" stroke-width="26" fill="none"/>
<path d="M508 230 L508 291" stroke="#fff" stroke-width="13.34" fill="none"/>
<path d="M508 230 L508 291" stroke="url(#dotsC)" stroke-width="13.34" fill="none"/>
<path d="M489 290 L535 290 L513 317 Z" fill="#fff"/><path d="M489 290 L535 290 L513 317 Z" fill="url(#dotsD)" stroke="#151515" stroke-width="2.2" stroke-linejoin="round"/>
<g>
<path d="M446 77 C452 70 470 60 490 55 L512 50 L534 55 C554 60 572 70 578 77 Z" fill="#fff"/>
<path d="M446 77 C452 70 470 60 490 55 L512 50 L534 55 C554 60 572 70 578 77 Z" fill="url(#dotsM)"/>
<path d="M449 75 C444 70 446 63 452 63 C457 63 458 69 454 70" stroke="#151515" stroke-width="7.5" fill="none" stroke-linecap="round"/><path d="M449 75 C444 70 446 63 452 63 C457 63 458 69 454 70" stroke="#fff" stroke-width="3.7" fill="none" stroke-linecap="round"/><path d="M449 75 C444 70 446 63 452 63 C457 63 458 69 454 70" stroke="#151515" stroke-width="0.9" fill="none" stroke-dasharray="0.9 1.5"/>
<path d="M575 75 C580 70 578 63 572 63 C567 63 566 69 570 70" stroke="#151515" stroke-width="7.5" fill="none" stroke-linecap="round"/><path d="M575 75 C580 70 578 63 572 63 C567 63 566 69 570 70" stroke="#fff" stroke-width="3.7" fill="none" stroke-linecap="round"/><path d="M575 75 C580 70 578 63 572 63 C567 63 566 69 570 70" stroke="#151515" stroke-width="0.9" fill="none" stroke-dasharray="0.9 1.5"/>
<path d="M454 73 C468 70 478 55 494 54 C505 53 510 62 506 70 C502 77 492 76 491 70 C490 65 496 63 498 67" stroke="#151515" stroke-width="8" fill="none" stroke-linecap="round"/><path d="M454 73 C468 70 478 55 494 54 C505 53 510 62 506 70 C502 77 492 76 491 70 C490 65 496 63 498 67" stroke="#fff" stroke-width="4.2" fill="none" stroke-linecap="round"/><path d="M454 73 C468 70 478 55 494 54 C505 53 510 62 506 70 C502 77 492 76 491 70 C490 65 496 63 498 67" stroke="#151515" stroke-width="0.9" fill="none" stroke-dasharray="0.9 1.5"/>
<path d="M570 73 C556 70 546 55 530 54 C519 53 514 62 518 70 C522 77 532 76 533 70 C534 65 528 63 526 67" stroke="#151515" stroke-width="8" fill="none" stroke-linecap="round"/><path d="M570 73 C556 70 546 55 530 54 C519 53 514 62 518 70 C522 77 532 76 533 70 C534 65 528 63 526 67" stroke="#fff" stroke-width="4.2" fill="none" stroke-linecap="round"/><path d="M570 73 C556 70 546 55 530 54 C519 53 514 62 518 70 C522 77 532 76 533 70 C534 65 528 63 526 67" stroke="#151515" stroke-width="0.9" fill="none" stroke-dasharray="0.9 1.5"/>
<rect x="506" y="66" width="12" height="10" fill="#fff" stroke="#151515" stroke-width="2"/>
<path d="M512 45 C517 50 518 58 512 64 C506 58 507 50 512 45 Z M505 55 C508 56 510 60 511 63 M519 55 C516 56 514 60 513 63" fill="#fff" stroke="#151515" stroke-width="1.8"/>
</g>
<g transform="translate(0 301) scale(1 -1)">
<path d="M446 77 C452 70 470 60 490 55 L512 50 L534 55 C554 60 572 70 578 77 Z" fill="#fff"/>
<path d="M446 77 C452 70 470 60 490 55 L512 50 L534 55 C554 60 572 70 578 77 Z" fill="url(#dotsM)"/>
<path d="M449 75 C444 70 446 63 452 63 C457 63 458 69 454 70" stroke="#151515" stroke-width="7.5" fill="none" stroke-linecap="round"/><path d="M449 75 C444 70 446 63 452 63 C457 63 458 69 454 70" stroke="#fff" stroke-width="3.7" fill="none" stroke-linecap="round"/><path d="M449 75 C444 70 446 63 452 63 C457 63 458 69 454 70" stroke="#151515" stroke-width="0.9" fill="none" stroke-dasharray="0.9 1.5"/>
<path d="M575 75 C580 70 578 63 572 63 C567 63 566 69 570 70" stroke="#151515" stroke-width="7.5" fill="none" stroke-linecap="round"/><path d="M575 75 C580 70 578 63 572 63 C567 63 566 69 570 70" stroke="#fff" stroke-width="3.7" fill="none" stroke-linecap="round"/><path d="M575 75 C580 70 578 63 572 63 C567 63 566 69 570 70" stroke="#151515" stroke-width="0.9" fill="none" stroke-dasharray="0.9 1.5"/>
<path d="M454 73 C468 70 478 55 494 54 C505 53 510 62 506 70 C502 77 492 76 491 70 C490 65 496 63 498 67" stroke="#151515" stroke-width="8" fill="none" stroke-linecap="round"/><path d="M454 73 C468 70 478 55 494 54 C505 53 510 62 506 70 C502 77 492 76 491 70 C490 65 496 63 498 67" stroke="#fff" stroke-width="4.2" fill="none" stroke-linecap="round"/><path d="M454 73 C468 70 478 55 494 54 C505 53 510 62 506 70 C502 77 492 76 491 70 C490 65 496 63 498 67" stroke="#151515" stroke-width="0.9" fill="none" stroke-dasharray="0.9 1.5"/>
<path d="M570 73 C556 70 546 55 530 54 C519 53 514 62 518 70 C522 77 532 76 533 70 C534 65 528 63 526 67" stroke="#151515" stroke-width="8" fill="none" stroke-linecap="round"/><path d="M570 73 C556 70 546 55 530 54 C519 53 514 62 518 70 C522 77 532 76 533 70 C534 65 528 63 526 67" stroke="#fff" stroke-width="4.2" fill="none" stroke-linecap="round"/><path d="M570 73 C556 70 546 55 530 54 C519 53 514 62 518 70 C522 77 532 76 533 70 C534 65 528 63 526 67" stroke="#151515" stroke-width="0.9" fill="none" stroke-dasharray="0.9 1.5"/>
<rect x="506" y="66" width="12" height="10" fill="#fff" stroke="#151515" stroke-width="2"/>
<path d="M512 45 C517 50 518 58 512 64 C506 58 507 50 512 45 Z M505 55 C508 56 510 60 511 63 M519 55 C516 56 514 60 513 63" fill="#fff" stroke="#151515" stroke-width="1.8"/>
</g>
<path d="M410 77 L614 77 Q628 77 628 91 L628 106  C639 106 649 110 653 121  C655 127 659 131 666 133  C670 134 671 136 671 140  L671 163  C671 167 670 169 666 170  C659 172 655 176 653 182  C649 193 639 197 628 197 L628 210 Q628 224 614 224 L410 224 Q396 224 396 210 L396 197 C385 197 375 193 371 182 C369 176 365 172 358 170 C354 169 353 167 353 163 L353 140 C353 136 354 134 358 133 C365 131 369 127 371 121 C375 110 385 106 396 106 L396 91 Q396 77 410 77 Z" fill="#fff" stroke="#151515" stroke-width="3.2"/>
<path d="M410 77 L614 77 Q628 77 628 91 L628 106  C639 106 649 110 653 121  C655 127 659 131 666 133  C670 134 671 136 671 140  L671 163  C671 167 670 169 666 170  C659 172 655 176 653 182  C649 193 639 197 628 197 L628 210 Q628 224 614 224 L410 224 Q396 224 396 210 L396 197 C385 197 375 193 371 182 C369 176 365 172 358 170 C354 169 353 167 353 163 L353 140 C353 136 354 134 358 133 C365 131 369 127 371 121 C375 110 385 106 396 106 L396 91 Q396 77 410 77 Z" fill="url(#dotsB)" stroke="#151515" stroke-width="1.5" vector-effect="non-scaling-stroke" transform="translate(512 150.5) scale(0.962 0.915) translate(-512 -150.5)"/>
<rect x="404" y="90" width="216" height="122" rx="26" fill="#fff" filter="url(#bl6)"/>
<circle cx="373.7" cy="151.5" r="4.5" fill="#fff" stroke="#151515" stroke-width="2"/>
<rect x="386" y="99" width="8" height="8" rx="2.5" fill="#fff" stroke="#151515" stroke-width="2"/>
<rect x="386" y="199" width="8" height="8" rx="2.5" fill="#fff" stroke="#151515" stroke-width="2"/>
<rect x="630" y="99" width="8" height="8" rx="2.5" fill="#fff" stroke="#151515" stroke-width="2"/>
<rect x="630" y="199" width="8" height="8" rx="2.5" fill="#fff" stroke="#151515" stroke-width="2"/>
<circle cx="650.3" cy="151.5" r="4.5" fill="#fff" stroke="#151515" stroke-width="2"/>
<text x="511" y="128.3" font-size="40" text-anchor="middle" class="hv2" textLength="85" lengthAdjust="spacingAndGlyphs">OBG</text>
<text x="512" y="160.2" font-size="29.5" text-anchor="middle" class="hv2" textLength="195" lengthAdjust="spacingAndGlyphs">FRAMEWORK</text>
<text x="512" y="185" font-size="19.5" text-anchor="middle" class="md" textLength="180" lengthAdjust="spacingAndGlyphs">(SPENDING CATEGORY</text>
<text x="511.5" y="203.3" font-size="19.5" text-anchor="middle" class="md" textLength="149" lengthAdjust="spacingAndGlyphs">DATA STRUCTURE)</text>
<path d="M286 396 L322 396 Q333 396 333 407 L333 470 Q333 480 345 482 Q359 484 359 496 L359 804 Q359 817 346 817 L340 817" stroke="#151515" stroke-width="2" fill="none" stroke-dasharray="6 4"/>
<path d="M344.4 811.8 L333.4 817.3 L344.4 822.8 L339.45 817.3 Z" fill="#333" stroke="#151515" stroke-width="1.6" stroke-linejoin="miter"/>
<path d="M359 528 Q359 539 370 539 L378 539" stroke="#151515" stroke-width="2" fill="none" stroke-dasharray="6 4"/>
<path d="M373.5 544.5 L384.5 539 L373.5 533.5 L378.45 539 Z" fill="#333" stroke="#151515" stroke-width="1.6" stroke-linejoin="miter"/>
<path d="M410 396 L381 396 Q370 396 370 407 L370 488 Q370 498 358 499 Q348 500 348 512 L348 722 Q348 734.5 360 734.5 L378 734.5" stroke="#151515" stroke-width="2" fill="none" stroke-dasharray="6 4"/>
<path d="M374 740 L385 734.5 L374 729 L378.95 734.5 Z" fill="#333" stroke="#151515" stroke-width="1.6" stroke-linejoin="miter"/>
<path d="M331 611 L348 611" stroke="#151515" stroke-width="2" fill="none" stroke-dasharray="6 4"/>
<path d="M614 396 L645 396 Q655 396 655 406 L655 425" stroke="#151515" stroke-width="2" fill="none" stroke-dasharray="6 4"/>
<path d="M655 474 L655 546 Q655 556 663 560 Q671 564 671 575 L671 804 Q671 817 658 817 L653 817" stroke="#151515" stroke-width="2" fill="none" stroke-dasharray="6 4"/>
<path d="M657.7 811.8 L646.7 817.3 L657.7 822.8 L652.75 817.3 Z" fill="#333" stroke="#151515" stroke-width="1.6" stroke-linejoin="miter"/>
<path d="M652 621.6 L671 621.6" stroke="#151515" stroke-width="2" fill="none" stroke-dasharray="6 4"/>
<path d="M738 396 L709 396 Q699.5 396 699.5 406 L699.5 427" stroke="#151515" stroke-width="2" fill="none" stroke-dasharray="6 4"/>
<path d="M733 401.5 L744 396 L733 390.5 L737.95 396 Z" fill="#333" stroke="#151515" stroke-width="1.6" stroke-linejoin="miter"/>
<path d="M672.6 481 L672.6 528 Q672.6 539 684 539 L703 539" stroke="#151515" stroke-width="2" fill="none" stroke-dasharray="6 4"/>
<path d="M699 544.5 L710 539 L699 533.5 L703.95 539 Z" fill="#333" stroke="#151515" stroke-width="1.6" stroke-linejoin="miter"/>
<path d="M699.5 470 Q699 484 690 488 Q685 490 685 500 L685 722 Q685 734.5 697 734.5 L703 734.5" stroke="#151515" stroke-width="2" fill="none" stroke-dasharray="6 4"/>
<path d="M699 740 L710 734.5 L699 729 L703.95 734.5 Z" fill="#333" stroke="#151515" stroke-width="1.6" stroke-linejoin="miter"/>
<path d="M785.3 762 L785.3 804 Q785.3 816.6 797 816.6 L811 816.6" stroke="#151515" stroke-width="2" fill="none" stroke-dasharray="6 4"/>
<path d="M807 822.1 L818 816.6 L807 811.1 L811.95 816.6 Z" fill="#333" stroke="#151515" stroke-width="1.6" stroke-linejoin="miter"/>
<path d="M291 390.5 L280 396 L291 401.5 L286.05 396 Z" fill="#333" stroke="#151515" stroke-width="1.6" stroke-linejoin="miter"/>
<path d="M404.7 401.5 L415.7 396 L404.7 390.5 L409.65 396 Z" fill="#333" stroke="#151515" stroke-width="1.6" stroke-linejoin="miter"/>
<path d="M619.6 390.5 L608.6 396 L619.6 401.5 L614.65 396 Z" fill="#333" stroke="#151515" stroke-width="1.6" stroke-linejoin="miter"/>
<path d="M643.22 427.78 L644 422.63 L649.2 422.63 L649.98 427.78 A20.5 20.5 0 0 1 653.78 428.8 L657.04 424.73 L661.53 427.33 L659.64 432.18 A20.5 20.5 0 0 1 662.42 434.96 L667.27 433.07 L669.87 437.56 L665.8 440.82 A20.5 20.5 0 0 1 666.82 444.62 L671.97 445.4 L671.97 450.6 L666.82 451.38 A20.5 20.5 0 0 1 665.8 455.18 L669.87 458.44 L667.27 462.93 L662.42 461.04 A20.5 20.5 0 0 1 659.64 463.82 L661.53 468.67 L657.04 471.27 L653.78 467.2 A20.5 20.5 0 0 1 649.98 468.22 L649.2 473.37 L644 473.37 L643.22 468.22 A20.5 20.5 0 0 1 639.42 467.2 L636.16 471.27 L631.67 468.67 L633.56 463.82 A20.5 20.5 0 0 1 630.78 461.04 L625.93 462.93 L623.33 458.44 L627.4 455.18 A20.5 20.5 0 0 1 626.38 451.38 L621.23 450.6 L621.23 445.4 L626.38 444.62 A20.5 20.5 0 0 1 627.4 440.82 L623.33 437.56 L625.93 433.07 L630.78 434.96 A20.5 20.5 0 0 1 633.56 432.18 L631.67 427.33 L636.16 424.73 L639.42 428.8 A20.5 20.5 0 0 1 643.22 427.78 Z" fill="#fff"/>
<path d="M643.22 427.78 L644 422.63 L649.2 422.63 L649.98 427.78 A20.5 20.5 0 0 1 653.78 428.8 L657.04 424.73 L661.53 427.33 L659.64 432.18 A20.5 20.5 0 0 1 662.42 434.96 L667.27 433.07 L669.87 437.56 L665.8 440.82 A20.5 20.5 0 0 1 666.82 444.62 L671.97 445.4 L671.97 450.6 L666.82 451.38 A20.5 20.5 0 0 1 665.8 455.18 L669.87 458.44 L667.27 462.93 L662.42 461.04 A20.5 20.5 0 0 1 659.64 463.82 L661.53 468.67 L657.04 471.27 L653.78 467.2 A20.5 20.5 0 0 1 649.98 468.22 L649.2 473.37 L644 473.37 L643.22 468.22 A20.5 20.5 0 0 1 639.42 467.2 L636.16 471.27 L631.67 468.67 L633.56 463.82 A20.5 20.5 0 0 1 630.78 461.04 L625.93 462.93 L623.33 458.44 L627.4 455.18 A20.5 20.5 0 0 1 626.38 451.38 L621.23 450.6 L621.23 445.4 L626.38 444.62 A20.5 20.5 0 0 1 627.4 440.82 L623.33 437.56 L625.93 433.07 L630.78 434.96 A20.5 20.5 0 0 1 633.56 432.18 L631.67 427.33 L636.16 424.73 L639.42 428.8 A20.5 20.5 0 0 1 643.22 427.78 Z" fill="url(#dotsL)" stroke="#151515" stroke-width="2.2" stroke-linejoin="round"/>
<circle cx="646.6" cy="448" r="11" fill="#fff" stroke="#151515" stroke-width="2.4"/>
<path d="M704.81 428.76 L705.5 424.12 L710.1 424.12 L710.79 428.76 A17.5 17.5 0 0 1 713.84 429.57 L716.75 425.9 L720.73 428.2 L719.01 432.56 A17.5 17.5 0 0 1 721.24 434.79 L725.6 433.07 L727.9 437.05 L724.23 439.96 A17.5 17.5 0 0 1 725.04 443.01 L729.68 443.7 L729.68 448.3 L725.04 448.99 A17.5 17.5 0 0 1 724.23 452.04 L727.9 454.95 L725.6 458.93 L721.24 457.21 A17.5 17.5 0 0 1 719.01 459.44 L720.73 463.8 L716.75 466.1 L713.84 462.43 A17.5 17.5 0 0 1 710.79 463.24 L710.1 467.88 L705.5 467.88 L704.81 463.24 A17.5 17.5 0 0 1 701.76 462.43 L698.85 466.1 L694.87 463.8 L696.59 459.44 A17.5 17.5 0 0 1 694.36 457.21 L690 458.93 L687.7 454.95 L691.37 452.04 A17.5 17.5 0 0 1 690.56 448.99 L685.92 448.3 L685.92 443.7 L690.56 443.01 A17.5 17.5 0 0 1 691.37 439.96 L687.7 437.05 L690 433.07 L694.36 434.79 A17.5 17.5 0 0 1 696.59 432.56 L694.87 428.2 L698.85 425.9 L701.76 429.57 A17.5 17.5 0 0 1 704.81 428.76 Z" fill="#fff"/>
<path d="M704.81 428.76 L705.5 424.12 L710.1 424.12 L710.79 428.76 A17.5 17.5 0 0 1 713.84 429.57 L716.75 425.9 L720.73 428.2 L719.01 432.56 A17.5 17.5 0 0 1 721.24 434.79 L725.6 433.07 L727.9 437.05 L724.23 439.96 A17.5 17.5 0 0 1 725.04 443.01 L729.68 443.7 L729.68 448.3 L725.04 448.99 A17.5 17.5 0 0 1 724.23 452.04 L727.9 454.95 L725.6 458.93 L721.24 457.21 A17.5 17.5 0 0 1 719.01 459.44 L720.73 463.8 L716.75 466.1 L713.84 462.43 A17.5 17.5 0 0 1 710.79 463.24 L710.1 467.88 L705.5 467.88 L704.81 463.24 A17.5 17.5 0 0 1 701.76 462.43 L698.85 466.1 L694.87 463.8 L696.59 459.44 A17.5 17.5 0 0 1 694.36 457.21 L690 458.93 L687.7 454.95 L691.37 452.04 A17.5 17.5 0 0 1 690.56 448.99 L685.92 448.3 L685.92 443.7 L690.56 443.01 A17.5 17.5 0 0 1 691.37 439.96 L687.7 437.05 L690 433.07 L694.36 434.79 A17.5 17.5 0 0 1 696.59 432.56 L694.87 428.2 L698.85 425.9 L701.76 429.57 A17.5 17.5 0 0 1 704.81 428.76 Z" fill="url(#dotsL)" stroke="#151515" stroke-width="2.2" stroke-linejoin="round"/>
<circle cx="707.8" cy="446" r="10" fill="#fff" stroke="#151515" stroke-width="2.4"/>
<path d="M682.43 461.85 L683.01 458.15 L686.99 458.15 L687.57 461.85 A9.5 9.5 0 0 1 689.65 462.72 L692.68 460.51 L695.49 463.32 L693.28 466.35 A9.5 9.5 0 0 1 694.15 468.43 L697.85 469.01 L697.85 472.99 L694.15 473.57 A9.5 9.5 0 0 1 693.28 475.65 L695.49 478.68 L692.68 481.49 L689.65 479.28 A9.5 9.5 0 0 1 687.57 480.15 L686.99 483.85 L683.01 483.85 L682.43 480.15 A9.5 9.5 0 0 1 680.35 479.28 L677.32 481.49 L674.51 478.68 L676.72 475.65 A9.5 9.5 0 0 1 675.85 473.57 L672.15 472.99 L672.15 469.01 L675.85 468.43 A9.5 9.5 0 0 1 676.72 466.35 L674.51 463.32 L677.32 460.51 L680.35 462.72 A9.5 9.5 0 0 1 682.43 461.85 Z" fill="#fff"/>
<path d="M682.43 461.85 L683.01 458.15 L686.99 458.15 L687.57 461.85 A9.5 9.5 0 0 1 689.65 462.72 L692.68 460.51 L695.49 463.32 L693.28 466.35 A9.5 9.5 0 0 1 694.15 468.43 L697.85 469.01 L697.85 472.99 L694.15 473.57 A9.5 9.5 0 0 1 693.28 475.65 L695.49 478.68 L692.68 481.49 L689.65 479.28 A9.5 9.5 0 0 1 687.57 480.15 L686.99 483.85 L683.01 483.85 L682.43 480.15 A9.5 9.5 0 0 1 680.35 479.28 L677.32 481.49 L674.51 478.68 L676.72 475.65 A9.5 9.5 0 0 1 675.85 473.57 L672.15 472.99 L672.15 469.01 L675.85 468.43 A9.5 9.5 0 0 1 676.72 466.35 L674.51 463.32 L677.32 460.51 L680.35 462.72 A9.5 9.5 0 0 1 682.43 461.85 Z" fill="url(#dotsL)" stroke="#151515" stroke-width="2.2" stroke-linejoin="round"/>
<circle cx="685" cy="471" r="3.6" fill="#fff" stroke="#151515" stroke-width="2.4"/>
<line x1="357" y1="464" x2="328" y2="490" stroke="#151515" stroke-width="11.1" stroke-linecap="round"/>
<line x1="357" y1="464" x2="328" y2="490" stroke="#fff" stroke-width="7.5" stroke-linecap="round"/>
<line x1="357" y1="464" x2="328" y2="490" stroke="url(#dotsL)" stroke-width="7.5" stroke-linecap="round"/>
<line x1="355.51" y1="465.34" x2="351.04" y2="469.34" stroke="#151515" stroke-width="12.5"/>
<line x1="354.54" y1="466.2" x2="352.01" y2="468.47" stroke="#fff" stroke-width="9.9"/>
<circle cx="377.6" cy="447" r="23.2" fill="#fff" stroke="#151515" stroke-width="2.6"/>
<circle cx="377.6" cy="447" r="21.2" fill="none" stroke="#151515" stroke-width="0.9" stroke-dasharray="0.9 1.5"/>
<circle cx="377.6" cy="447" r="19" fill="url(#dotsL)" stroke="#151515" stroke-width="2.2"/>
<circle cx="378.6" cy="448" r="14.5" fill="#fff" filter="url(#bl2)"/>
<line x1="588" y1="294" x2="607" y2="322" stroke="#151515" stroke-width="10.6" stroke-linecap="round"/>
<line x1="588" y1="294" x2="607" y2="322" stroke="#fff" stroke-width="7" stroke-linecap="round"/>
<line x1="588" y1="294" x2="607" y2="322" stroke="url(#dotsL)" stroke-width="7" stroke-linecap="round"/>
<line x1="589.12" y1="295.65" x2="592.49" y2="300.62" stroke="#151515" stroke-width="12"/>
<line x1="589.85" y1="296.73" x2="591.76" y2="299.54" stroke="#fff" stroke-width="9.4"/>
<circle cx="575.5" cy="274.8" r="20.2" fill="#fff" stroke="#151515" stroke-width="2.6"/>
<circle cx="575.5" cy="274.8" r="18.2" fill="none" stroke="#151515" stroke-width="0.9" stroke-dasharray="0.9 1.5"/>
<circle cx="575.5" cy="274.8" r="16" fill="url(#dotsL)" stroke="#151515" stroke-width="2.2"/>
<circle cx="576.5" cy="275.8" r="11.5" fill="#fff" filter="url(#bl2)"/>
<path d="M-26 -69 C-16 -72,-13 -78,-12.5 -87 Q-12.5 -91,-9.5 -91 L9.5 -91 Q12.5 -91,12.5 -87 C13 -78,16 -72,26 -69 Z" transform="translate(185 394) rotate(0)" fill="#fff"/>
<path d="M-26 -69 C-16 -72,-13 -78,-12.5 -87 Q-12.5 -91,-9.5 -91 L9.5 -91 Q12.5 -91,12.5 -87 C13 -78,16 -72,26 -69 Z" transform="translate(185 394) rotate(0)" fill="url(#dotsT)" stroke="#151515" stroke-width="2.6" stroke-linejoin="round"/>
<path d="M-26 -69 C-16 -72,-13 -78,-12.5 -87 Q-12.5 -91,-9.5 -91 L9.5 -91 Q12.5 -91,12.5 -87 C13 -78,16 -72,26 -69 Z" transform="translate(185 394) rotate(50)" fill="#fff"/>
<path d="M-26 -69 C-16 -72,-13 -78,-12.5 -87 Q-12.5 -91,-9.5 -91 L9.5 -91 Q12.5 -91,12.5 -87 C13 -78,16 -72,26 -69 Z" transform="translate(185 394) rotate(50)" fill="url(#dotsT)" stroke="#151515" stroke-width="2.6" stroke-linejoin="round"/>
<path d="M-26 -69 C-16 -72,-13 -78,-12.5 -87 Q-12.5 -91,-9.5 -91 L9.5 -91 Q12.5 -91,12.5 -87 C13 -78,16 -72,26 -69 Z" transform="translate(185 394) rotate(90)" fill="#fff"/>
<path d="M-26 -69 C-16 -72,-13 -78,-12.5 -87 Q-12.5 -91,-9.5 -91 L9.5 -91 Q12.5 -91,12.5 -87 C13 -78,16 -72,26 -69 Z" transform="translate(185 394) rotate(90)" fill="url(#dotsT)" stroke="#151515" stroke-width="2.6" stroke-linejoin="round"/>
<path d="M-26 -69 C-16 -72,-13 -78,-12.5 -87 Q-12.5 -91,-9.5 -91 L9.5 -91 Q12.5 -91,12.5 -87 C13 -78,16 -72,26 -69 Z" transform="translate(185 394) rotate(130)" fill="#fff"/>
<path d="M-26 -69 C-16 -72,-13 -78,-12.5 -87 Q-12.5 -91,-9.5 -91 L9.5 -91 Q12.5 -91,12.5 -87 C13 -78,16 -72,26 -69 Z" transform="translate(185 394) rotate(130)" fill="url(#dotsT)" stroke="#151515" stroke-width="2.6" stroke-linejoin="round"/>
<path d="M-26 -69 C-16 -72,-13 -78,-12.5 -87 Q-12.5 -91,-9.5 -91 L9.5 -91 Q12.5 -91,12.5 -87 C13 -78,16 -72,26 -69 Z" transform="translate(185 394) rotate(180)" fill="#fff"/>
<path d="M-26 -69 C-16 -72,-13 -78,-12.5 -87 Q-12.5 -91,-9.5 -91 L9.5 -91 Q12.5 -91,12.5 -87 C13 -78,16 -72,26 -69 Z" transform="translate(185 394) rotate(180)" fill="url(#dotsT)" stroke="#151515" stroke-width="2.6" stroke-linejoin="round"/>
<path d="M-26 -69 C-16 -72,-13 -78,-12.5 -87 Q-12.5 -91,-9.5 -91 L9.5 -91 Q12.5 -91,12.5 -87 C13 -78,16 -72,26 -69 Z" transform="translate(185 394) rotate(230)" fill="#fff"/>
<path d="M-26 -69 C-16 -72,-13 -78,-12.5 -87 Q-12.5 -91,-9.5 -91 L9.5 -91 Q12.5 -91,12.5 -87 C13 -78,16 -72,26 -69 Z" transform="translate(185 394) rotate(230)" fill="url(#dotsT)" stroke="#151515" stroke-width="2.6" stroke-linejoin="round"/>
<path d="M-26 -69 C-16 -72,-13 -78,-12.5 -87 Q-12.5 -91,-9.5 -91 L9.5 -91 Q12.5 -91,12.5 -87 C13 -78,16 -72,26 -69 Z" transform="translate(185 394) rotate(270)" fill="#fff"/>
<path d="M-26 -69 C-16 -72,-13 -78,-12.5 -87 Q-12.5 -91,-9.5 -91 L9.5 -91 Q12.5 -91,12.5 -87 C13 -78,16 -72,26 -69 Z" transform="translate(185 394) rotate(270)" fill="url(#dotsT)" stroke="#151515" stroke-width="2.6" stroke-linejoin="round"/>
<path d="M-26 -69 C-16 -72,-13 -78,-12.5 -87 Q-12.5 -91,-9.5 -91 L9.5 -91 Q12.5 -91,12.5 -87 C13 -78,16 -72,26 -69 Z" transform="translate(185 394) rotate(310)" fill="#fff"/>
<path d="M-26 -69 C-16 -72,-13 -78,-12.5 -87 Q-12.5 -91,-9.5 -91 L9.5 -91 Q12.5 -91,12.5 -87 C13 -78,16 -72,26 -69 Z" transform="translate(185 394) rotate(310)" fill="url(#dotsT)" stroke="#151515" stroke-width="2.6" stroke-linejoin="round"/>
<circle cx="185" cy="394" r="73.2" fill="#fff" stroke="#151515" stroke-width="2.8"/>
<circle cx="185" cy="394" r="70.6" fill="none" stroke="#151515" stroke-width="0.9" stroke-dasharray="0.9 1.6"/>
<circle cx="185" cy="394" r="67" fill="url(#dotsF)" stroke="#151515" stroke-width="2.4"/>
<circle cx="185" cy="394" r="54" fill="#fff" filter="url(#bl6)"/>
<path d="M-26 -69 C-16 -72,-13 -78,-12.5 -87 Q-12.5 -91,-9.5 -91 L9.5 -91 Q12.5 -91,12.5 -87 C13 -78,16 -72,26 -69 Z" transform="translate(512 395) rotate(0)" fill="#fff"/>
<path d="M-26 -69 C-16 -72,-13 -78,-12.5 -87 Q-12.5 -91,-9.5 -91 L9.5 -91 Q12.5 -91,12.5 -87 C13 -78,16 -72,26 -69 Z" transform="translate(512 395) rotate(0)" fill="url(#dotsT)" stroke="#151515" stroke-width="2.6" stroke-linejoin="round"/>
<path d="M-26 -69 C-16 -72,-13 -78,-12.5 -87 Q-12.5 -91,-9.5 -91 L9.5 -91 Q12.5 -91,12.5 -87 C13 -78,16 -72,26 -69 Z" transform="translate(512 395) rotate(50)" fill="#fff"/>
<path d="M-26 -69 C-16 -72,-13 -78,-12.5 -87 Q-12.5 -91,-9.5 -91 L9.5 -91 Q12.5 -91,12.5 -87 C13 -78,16 -72,26 -69 Z" transform="translate(512 395) rotate(50)" fill="url(#dotsT)" stroke="#151515" stroke-width="2.6" stroke-linejoin="round"/>
<path d="M-26 -69 C-16 -72,-13 -78,-12.5 -87 Q-12.5 -91,-9.5 -91 L9.5 -91 Q12.5 -91,12.5 -87 C13 -78,16 -72,26 -69 Z" transform="translate(512 395) rotate(90)" fill="#fff"/>
<path d="M-26 -69 C-16 -72,-13 -78,-12.5 -87 Q-12.5 -91,-9.5 -91 L9.5 -91 Q12.5 -91,12.5 -87 C13 -78,16 -72,26 -69 Z" transform="translate(512 395) rotate(90)" fill="url(#dotsT)" stroke="#151515" stroke-width="2.6" stroke-linejoin="round"/>
<path d="M-26 -69 C-16 -72,-13 -78,-12.5 -87 Q-12.5 -91,-9.5 -91 L9.5 -91 Q12.5 -91,12.5 -87 C13 -78,16 -72,26 -69 Z" transform="translate(512 395) rotate(130)" fill="#fff"/>
<path d="M-26 -69 C-16 -72,-13 -78,-12.5 -87 Q-12.5 -91,-9.5 -91 L9.5 -91 Q12.5 -91,12.5 -87 C13 -78,16 -72,26 -69 Z" transform="translate(512 395) rotate(130)" fill="url(#dotsT)" stroke="#151515" stroke-width="2.6" stroke-linejoin="round"/>
<path d="M-26 -69 C-16 -72,-13 -78,-12.5 -87 Q-12.5 -91,-9.5 -91 L9.5 -91 Q12.5 -91,12.5 -87 C13 -78,16 -72,26 -69 Z" transform="translate(512 395) rotate(180)" fill="#fff"/>
<path d="M-26 -69 C-16 -72,-13 -78,-12.5 -87 Q-12.5 -91,-9.5 -91 L9.5 -91 Q12.5 -91,12.5 -87 C13 -78,16 -72,26 -69 Z" transform="translate(512 395) rotate(180)" fill="url(#dotsT)" stroke="#151515" stroke-width="2.6" stroke-linejoin="round"/>
<path d="M-26 -69 C-16 -72,-13 -78,-12.5 -87 Q-12.5 -91,-9.5 -91 L9.5 -91 Q12.5 -91,12.5 -87 C13 -78,16 -72,26 -69 Z" transform="translate(512 395) rotate(230)" fill="#fff"/>
<path d="M-26 -69 C-16 -72,-13 -78,-12.5 -87 Q-12.5 -91,-9.5 -91 L9.5 -91 Q12.5 -91,12.5 -87 C13 -78,16 -72,26 -69 Z" transform="translate(512 395) rotate(230)" fill="url(#dotsT)" stroke="#151515" stroke-width="2.6" stroke-linejoin="round"/>
<path d="M-26 -69 C-16 -72,-13 -78,-12.5 -87 Q-12.5 -91,-9.5 -91 L9.5 -91 Q12.5 -91,12.5 -87 C13 -78,16 -72,26 -69 Z" transform="translate(512 395) rotate(270)" fill="#fff"/>
<path d="M-26 -69 C-16 -72,-13 -78,-12.5 -87 Q-12.5 -91,-9.5 -91 L9.5 -91 Q12.5 -91,12.5 -87 C13 -78,16 -72,26 -69 Z" transform="translate(512 395) rotate(270)" fill="url(#dotsT)" stroke="#151515" stroke-width="2.6" stroke-linejoin="round"/>
<path d="M-26 -69 C-16 -72,-13 -78,-12.5 -87 Q-12.5 -91,-9.5 -91 L9.5 -91 Q12.5 -91,12.5 -87 C13 -78,16 -72,26 -69 Z" transform="translate(512 395) rotate(310)" fill="#fff"/>
<path d="M-26 -69 C-16 -72,-13 -78,-12.5 -87 Q-12.5 -91,-9.5 -91 L9.5 -91 Q12.5 -91,12.5 -87 C13 -78,16 -72,26 -69 Z" transform="translate(512 395) rotate(310)" fill="url(#dotsT)" stroke="#151515" stroke-width="2.6" stroke-linejoin="round"/>
<circle cx="512" cy="395" r="73.2" fill="#fff" stroke="#151515" stroke-width="2.8"/>
<circle cx="512" cy="395" r="70.6" fill="none" stroke="#151515" stroke-width="0.9" stroke-dasharray="0.9 1.6"/>
<circle cx="512" cy="395" r="67" fill="url(#dotsF)" stroke="#151515" stroke-width="2.4"/>
<circle cx="512" cy="395" r="54" fill="#fff" filter="url(#bl6)"/>
<path d="M-26 -69 C-16 -72,-13 -78,-12.5 -87 Q-12.5 -91,-9.5 -91 L9.5 -91 Q12.5 -91,12.5 -87 C13 -78,16 -72,26 -69 Z" transform="translate(839 395) rotate(0)" fill="#fff"/>
<path d="M-26 -69 C-16 -72,-13 -78,-12.5 -87 Q-12.5 -91,-9.5 -91 L9.5 -91 Q12.5 -91,12.5 -87 C13 -78,16 -72,26 -69 Z" transform="translate(839 395) rotate(0)" fill="url(#dotsT)" stroke="#151515" stroke-width="2.6" stroke-linejoin="round"/>
<path d="M-26 -69 C-16 -72,-13 -78,-12.5 -87 Q-12.5 -91,-9.5 -91 L9.5 -91 Q12.5 -91,12.5 -87 C13 -78,16 -72,26 -69 Z" transform="translate(839 395) rotate(50)" fill="#fff"/>
<path d="M-26 -69 C-16 -72,-13 -78,-12.5 -87 Q-12.5 -91,-9.5 -91 L9.5 -91 Q12.5 -91,12.5 -87 C13 -78,16 -72,26 -69 Z" transform="translate(839 395) rotate(50)" fill="url(#dotsT)" stroke="#151515" stroke-width="2.6" stroke-linejoin="round"/>
<path d="M-26 -69 C-16 -72,-13 -78,-12.5 -87 Q-12.5 -91,-9.5 -91 L9.5 -91 Q12.5 -91,12.5 -87 C13 -78,16 -72,26 -69 Z" transform="translate(839 395) rotate(90)" fill="#fff"/>
<path d="M-26 -69 C-16 -72,-13 -78,-12.5 -87 Q-12.5 -91,-9.5 -91 L9.5 -91 Q12.5 -91,12.5 -87 C13 -78,16 -72,26 -69 Z" transform="translate(839 395) rotate(90)" fill="url(#dotsT)" stroke="#151515" stroke-width="2.6" stroke-linejoin="round"/>
<path d="M-26 -69 C-16 -72,-13 -78,-12.5 -87 Q-12.5 -91,-9.5 -91 L9.5 -91 Q12.5 -91,12.5 -87 C13 -78,16 -72,26 -69 Z" transform="translate(839 395) rotate(130)" fill="#fff"/>
<path d="M-26 -69 C-16 -72,-13 -78,-12.5 -87 Q-12.5 -91,-9.5 -91 L9.5 -91 Q12.5 -91,12.5 -87 C13 -78,16 -72,26 -69 Z" transform="translate(839 395) rotate(130)" fill="url(#dotsT)" stroke="#151515" stroke-width="2.6" stroke-linejoin="round"/>
<path d="M-26 -69 C-16 -72,-13 -78,-12.5 -87 Q-12.5 -91,-9.5 -91 L9.5 -91 Q12.5 -91,12.5 -87 C13 -78,16 -72,26 -69 Z" transform="translate(839 395) rotate(180)" fill="#fff"/>
<path d="M-26 -69 C-16 -72,-13 -78,-12.5 -87 Q-12.5 -91,-9.5 -91 L9.5 -91 Q12.5 -91,12.5 -87 C13 -78,16 -72,26 -69 Z" transform="translate(839 395) rotate(180)" fill="url(#dotsT)" stroke="#151515" stroke-width="2.6" stroke-linejoin="round"/>
<path d="M-26 -69 C-16 -72,-13 -78,-12.5 -87 Q-12.5 -91,-9.5 -91 L9.5 -91 Q12.5 -91,12.5 -87 C13 -78,16 -72,26 -69 Z" transform="translate(839 395) rotate(230)" fill="#fff"/>
<path d="M-26 -69 C-16 -72,-13 -78,-12.5 -87 Q-12.5 -91,-9.5 -91 L9.5 -91 Q12.5 -91,12.5 -87 C13 -78,16 -72,26 -69 Z" transform="translate(839 395) rotate(230)" fill="url(#dotsT)" stroke="#151515" stroke-width="2.6" stroke-linejoin="round"/>
<path d="M-26 -69 C-16 -72,-13 -78,-12.5 -87 Q-12.5 -91,-9.5 -91 L9.5 -91 Q12.5 -91,12.5 -87 C13 -78,16 -72,26 -69 Z" transform="translate(839 395) rotate(270)" fill="#fff"/>
<path d="M-26 -69 C-16 -72,-13 -78,-12.5 -87 Q-12.5 -91,-9.5 -91 L9.5 -91 Q12.5 -91,12.5 -87 C13 -78,16 -72,26 -69 Z" transform="translate(839 395) rotate(270)" fill="url(#dotsT)" stroke="#151515" stroke-width="2.6" stroke-linejoin="round"/>
<path d="M-26 -69 C-16 -72,-13 -78,-12.5 -87 Q-12.5 -91,-9.5 -91 L9.5 -91 Q12.5 -91,12.5 -87 C13 -78,16 -72,26 -69 Z" transform="translate(839 395) rotate(310)" fill="#fff"/>
<path d="M-26 -69 C-16 -72,-13 -78,-12.5 -87 Q-12.5 -91,-9.5 -91 L9.5 -91 Q12.5 -91,12.5 -87 C13 -78,16 -72,26 -69 Z" transform="translate(839 395) rotate(310)" fill="url(#dotsT)" stroke="#151515" stroke-width="2.6" stroke-linejoin="round"/>
<circle cx="839" cy="395" r="73.2" fill="#fff" stroke="#151515" stroke-width="2.8"/>
<circle cx="839" cy="395" r="70.6" fill="none" stroke="#151515" stroke-width="0.9" stroke-dasharray="0.9 1.6"/>
<circle cx="839" cy="395" r="67" fill="url(#dotsF)" stroke="#151515" stroke-width="2.4"/>
<circle cx="839" cy="395" r="54" fill="#fff" filter="url(#bl6)"/>
<path d="M489 290 L535 290 L513 317 Z" fill="#fff"/><path d="M489 290 L535 290 L513 317 Z" fill="url(#dotsD)" stroke="#151515" stroke-width="2.2" stroke-linejoin="round"/>
<path d="M168 279 L200 279 L184 303 Z" fill="#fff"/><path d="M168 279 L200 279 L184 303 Z" fill="url(#dotsD)" stroke="#151515" stroke-width="2.2" stroke-linejoin="round"/>
<path d="M824 279 L856 279 L840 302 Z" fill="#fff"/><path d="M824 279 L856 279 L840 302 Z" fill="url(#dotsD)" stroke="#151515" stroke-width="2.2" stroke-linejoin="round"/>
<path d="M247 309 L278 340 L242 345 Z" fill="#fff"/><path d="M247 309 L278 340 L242 345 Z" fill="url(#dotsD)" stroke="#151515" stroke-width="2.2" stroke-linejoin="round"/>
<path d="M777 309 L746 340 L782 345 Z" fill="#fff"/><path d="M777 309 L746 340 L782 345 Z" fill="url(#dotsD)" stroke="#151515" stroke-width="2.2" stroke-linejoin="round"/>
<text x="185" y="392.7" font-size="50" text-anchor="middle" class="hv" textLength="37.5" lengthAdjust="spacingAndGlyphs">O</text>
<text x="184.5" y="415.7" font-size="17.5" text-anchor="middle" class="sb" textLength="118.5" lengthAdjust="spacingAndGlyphs">(OPERATIONS)</text>
<text x="512" y="385.7" font-size="51" text-anchor="middle" class="hv" textLength="33" lengthAdjust="spacingAndGlyphs">B</text>
<text x="512" y="409.4" font-size="18" text-anchor="middle" class="sb" textLength="100" lengthAdjust="spacingAndGlyphs">(BENEFITS &amp;</text>
<text x="511.5" y="428.4" font-size="18" text-anchor="middle" class="sb" textLength="73" lengthAdjust="spacingAndGlyphs">CAPITAL)</text>
<text x="839.5" y="389.6" font-size="51" text-anchor="middle" class="hv" textLength="35" lengthAdjust="spacingAndGlyphs">G</text>
<text x="839" y="411.5" font-size="18" text-anchor="middle" class="sb" textLength="89" lengthAdjust="spacingAndGlyphs">(GRANTS &amp;</text>
<text x="838.5" y="432.5" font-size="18" text-anchor="middle" class="sb" textLength="61" lengthAdjust="spacingAndGlyphs">OTHER)</text>
<path d="M138 457 Q118 478 114.5 500" stroke="#151515" stroke-width="4.5" fill="none"/>
<path d="M138 457 Q118 478 114.5 500" stroke="#fff" stroke-width="1.6" fill="none"/>
<path d="M138 457 Q118 478 114.5 500" stroke="#151515" stroke-width="1.2" fill="none" stroke-dasharray="1 1.3"/>
<path d="M108.51 495.05 L113.7 511 L123.34 497.28 L114.92 502.84 Z" fill="#333" stroke="#151515" stroke-width="1.6" stroke-linejoin="miter"/>
<path d="M235 457 C255 490 270 530 272 574" stroke="#151515" stroke-width="4.5" fill="none"/>
<path d="M235 457 C255 490 270 530 272 574" stroke="#fff" stroke-width="1.6" fill="none"/>
<path d="M235 457 C255 490 270 530 272 574" stroke="#151515" stroke-width="1.2" fill="none" stroke-dasharray="1 1.3"/>
<path d="M264.4 569.55 L272.2 584.4 L279.4 569.25 L272.04 576.15 Z" fill="#333" stroke="#151515" stroke-width="1.6" stroke-linejoin="miter"/>
<path d="M191 484 L191 630 C191 655 175 663 155 668 C135 673 124 682 122.5 697" stroke="#151515" stroke-width="4.5" fill="none"/>
<path d="M191 484 L191 630 C191 655 175 663 155 668 C135 673 124 682 122.5 697" stroke="#fff" stroke-width="1.6" fill="none"/>
<path d="M191 484 L191 630 C191 655 175 663 155 668 C135 673 124 682 122.5 697" stroke="#151515" stroke-width="1.2" fill="none" stroke-dasharray="1 1.3"/>
<path d="M115.26 692.64 L122 708 L130.24 693.39 L122.41 699.76 Z" fill="#333" stroke="#151515" stroke-width="1.6" stroke-linejoin="miter"/>
<path d="M191 628 L192 690 C194 715 205 730 230 737 C258 744 272 755 273.5 778" stroke="#151515" stroke-width="4.5" fill="none"/>
<path d="M191 628 L192 690 C194 715 205 730 230 737 C258 744 272 755 273.5 778" stroke="#fff" stroke-width="1.6" fill="none"/>
<path d="M191 628 L192 690 C194 715 205 730 230 737 C258 744 272 755 273.5 778" stroke="#151515" stroke-width="1.2" fill="none" stroke-dasharray="1 1.3"/>
<path d="M265.95 774.55 L273.75 789.4 L280.95 774.25 L273.59 781.15 Z" fill="#333" stroke="#151515" stroke-width="1.6" stroke-linejoin="miter"/>
<path d="M468 456 Q447 478 443.5 497" stroke="#151515" stroke-width="4.5" fill="none"/>
<path d="M468 456 Q447 478 443.5 497" stroke="#fff" stroke-width="1.6" fill="none"/>
<path d="M468 456 Q447 478 443.5 497" stroke="#151515" stroke-width="1.2" fill="none" stroke-dasharray="1 1.3"/>
<path d="M436.83 492.13 L442.8 507.8 L451.76 493.62 L443.62 499.59 Z" fill="#333" stroke="#151515" stroke-width="1.6" stroke-linejoin="miter"/>
<path d="M555 456 C575 490 592 540 594 584" stroke="#151515" stroke-width="4.5" fill="none"/>
<path d="M555 456 C575 490 592 540 594 584" stroke="#fff" stroke-width="1.6" fill="none"/>
<path d="M555 456 C575 490 592 540 594 584" stroke="#151515" stroke-width="1.2" fill="none" stroke-dasharray="1 1.3"/>
<path d="M586.6 579.55 L594.4 594.4 L601.6 579.25 L594.24 586.15 Z" fill="#333" stroke="#151515" stroke-width="1.6" stroke-linejoin="miter"/>
<path d="M521 484 L521 640 C521 665 505 672 485 676 C462 681 445 688 443.5 698" stroke="#151515" stroke-width="4.5" fill="none"/>
<path d="M521 484 L521 640 C521 665 505 672 485 676 C462 681 445 688 443.5 698" stroke="#fff" stroke-width="1.6" fill="none"/>
<path d="M521 484 L521 640 C521 665 505 672 485 676 C462 681 445 688 443.5 698" stroke="#151515" stroke-width="1.2" fill="none" stroke-dasharray="1 1.3"/>
<path d="M436.06 694.04 L442.8 709.4 L451.04 694.79 L443.21 701.16 Z" fill="#333" stroke="#151515" stroke-width="1.6" stroke-linejoin="miter"/>
<path d="M521 630 C520 660 513 680 513 700 C513 735 530 748 560 752 C580 756 586 768 586.5 779" stroke="#151515" stroke-width="4.5" fill="none"/>
<path d="M521 630 C520 660 513 680 513 700 C513 735 530 748 560 752 C580 756 586 768 586.5 779" stroke="#fff" stroke-width="1.6" fill="none"/>
<path d="M521 630 C520 660 513 680 513 700 C513 735 530 748 560 752 C580 756 586 768 586.5 779" stroke="#151515" stroke-width="1.2" fill="none" stroke-dasharray="1 1.3"/>
<path d="M578.8 775.15 L586.6 790 L593.8 774.85 L586.44 781.75 Z" fill="#333" stroke="#151515" stroke-width="1.6" stroke-linejoin="miter"/>
<path d="M792 458 Q772 480 770.5 497" stroke="#151515" stroke-width="4.5" fill="none"/>
<path d="M792 458 Q772 480 770.5 497" stroke="#fff" stroke-width="1.6" fill="none"/>
<path d="M792 458 Q772 480 770.5 497" stroke="#151515" stroke-width="1.2" fill="none" stroke-dasharray="1 1.3"/>
<path d="M763.73 492.13 L769.7 507.8 L778.66 493.62 L770.52 499.59 Z" fill="#333" stroke="#151515" stroke-width="1.6" stroke-linejoin="miter"/>
<path d="M876 462 C895 495 912 540 914 577" stroke="#151515" stroke-width="4.5" fill="none"/>
<path d="M876 462 C895 495 912 540 914 577" stroke="#fff" stroke-width="1.6" fill="none"/>
<path d="M876 462 C895 495 912 540 914 577" stroke="#151515" stroke-width="1.2" fill="none" stroke-dasharray="1 1.3"/>
<path d="M906.6 572.65 L914.4 587.5 L921.6 572.35 L914.24 579.25 Z" fill="#333" stroke="#151515" stroke-width="1.6" stroke-linejoin="miter"/>
<path d="M842 484 L842 640 C842 665 825 672 805 676 C785 680 772 690 771 695" stroke="#151515" stroke-width="4.5" fill="none"/>
<path d="M842 484 L842 640 C842 665 825 672 805 676 C785 680 772 690 771 695" stroke="#fff" stroke-width="1.6" fill="none"/>
<path d="M842 484 L842 640 C842 665 825 672 805 676 C785 680 772 690 771 695" stroke="#151515" stroke-width="1.2" fill="none" stroke-dasharray="1 1.3"/>
<path d="M763.86 690.64 L770.6 706 L778.84 691.39 L771.01 697.76 Z" fill="#333" stroke="#151515" stroke-width="1.6" stroke-linejoin="miter"/>
<path d="M842 630 C840 665 835 680 835 700 C835 735 852 748 870 752 C882 756 887 768 887.5 779" stroke="#151515" stroke-width="4.5" fill="none"/>
<path d="M842 630 C840 665 835 680 835 700 C835 735 852 748 870 752 C882 756 887 768 887.5 779" stroke="#fff" stroke-width="1.6" fill="none"/>
<path d="M842 630 C840 665 835 680 835 700 C835 735 852 748 870 752 C882 756 887 768 887.5 779" stroke="#151515" stroke-width="1.2" fill="none" stroke-dasharray="1 1.3"/>
<path d="M879.7 774.55 L887.5 789.4 L894.7 774.25 L887.34 781.15 Z" fill="#333" stroke="#151515" stroke-width="1.6" stroke-linejoin="miter"/>
<path d="M96.5 563 L87.66 584.67" stroke="#151515" stroke-width="2.2" fill="none"/><path d="M84.75 591.8 L83.81 579.54 L87.33 585.49 L94 583.69 Z" fill="#151515" stroke="#151515" stroke-width="1.2" stroke-linejoin="miter"/>
<path d="M125.5 563 L134.78 584.72" stroke="#151515" stroke-width="2.2" fill="none"/><path d="M137.8 591.8 L128.42 583.84 L135.12 585.53 L138.54 579.52 Z" fill="#151515" stroke="#151515" stroke-width="1.2" stroke-linejoin="miter"/>
<rect x="57.5" y="513.5" width="108" height="47" rx="8" fill="#fff" stroke="#151515" stroke-width="3"/>
<rect x="61.3" y="517.3" width="100.4" height="39.4" rx="4" fill="url(#dotsB)" stroke="#151515" stroke-width="1.4"/>
<rect x="63.5" y="519.5" width="96" height="35" rx="14" fill="#fff" filter="url(#bl15)"/>
<text x="111.5" y="543.8" font-size="21" text-anchor="middle" class="bx" textLength="81" lengthAdjust="spacingAndGlyphs">Personnel</text>
<ellipse cx="73.75" cy="617.8" rx="23.8" ry="23.8" fill="#fff" stroke="#151515" stroke-width="2.7"/>
<ellipse cx="73.75" cy="617.8" rx="20.2" ry="20.2" fill="url(#dotsC)" stroke="#151515" stroke-width="1.1"/>
<ellipse cx="73.75" cy="617.8" rx="17.3" ry="17.3" fill="#fff" filter="url(#bl2)"/>
<text x="73.75" y="622.6" font-size="14" text-anchor="middle" class="ct" textLength="33" lengthAdjust="spacingAndGlyphs">Salary</text>
<ellipse cx="147.8" cy="617.8" rx="23.8" ry="23.8" fill="#fff" stroke="#151515" stroke-width="2.7"/>
<ellipse cx="147.8" cy="617.8" rx="20.2" ry="20.2" fill="url(#dotsC)" stroke="#151515" stroke-width="1.1"/>
<ellipse cx="147.8" cy="617.8" rx="17.3" ry="17.3" fill="#fff" filter="url(#bl2)"/>
<text x="147.8" y="622.6" font-size="14" text-anchor="middle" class="ct" textLength="34.4" lengthAdjust="spacingAndGlyphs">Heurly</text>
<path d="M258 638 L250.45 654.5" stroke="#151515" stroke-width="2.2" fill="none"/><path d="M247.25 661.5 L246.82 649.21 L250.09 655.3 L256.83 653.78 Z" fill="#151515" stroke="#151515" stroke-width="1.2" stroke-linejoin="miter"/>
<path d="M287 638 L294.74 654.53" stroke="#151515" stroke-width="2.2" fill="none"/><path d="M298 661.5 L288.36 653.87 L295.11 655.32 L298.32 649.21 Z" fill="#151515" stroke="#151515" stroke-width="1.2" stroke-linejoin="miter"/>
<rect x="218.5" y="586.5" width="109" height="49" rx="8" fill="#fff" stroke="#151515" stroke-width="3"/>
<rect x="222.3" y="590.3" width="101.4" height="41.4" rx="4" fill="url(#dotsB)" stroke="#151515" stroke-width="1.4"/>
<rect x="224.5" y="592.5" width="97" height="37" rx="14" fill="#fff" filter="url(#bl15)"/>
<text x="273" y="617.6" font-size="21" text-anchor="middle" class="bx" textLength="69.4" lengthAdjust="spacingAndGlyphs">Supplies</text>
<ellipse cx="236.25" cy="687.5" rx="23.8" ry="23.8" fill="#fff" stroke="#151515" stroke-width="2.7"/>
<ellipse cx="236.25" cy="687.5" rx="20.2" ry="20.2" fill="url(#dotsC)" stroke="#151515" stroke-width="1.1"/>
<ellipse cx="236.25" cy="687.5" rx="17.3" ry="17.3" fill="#fff" filter="url(#bl2)"/>
<text x="236.25" y="692.3" font-size="14" text-anchor="middle" class="ct" textLength="30" lengthAdjust="spacingAndGlyphs">Office</text>
<ellipse cx="308" cy="687.5" rx="23.8" ry="23.8" fill="#fff" stroke="#151515" stroke-width="2.7"/>
<ellipse cx="308" cy="687.5" rx="20.2" ry="20.2" fill="url(#dotsC)" stroke="#151515" stroke-width="1.1"/>
<ellipse cx="308" cy="687.5" rx="17.3" ry="17.3" fill="#fff" filter="url(#bl2)"/>
<text x="308" y="692.3" font-size="14" text-anchor="middle" class="ct" textLength="17.5" lengthAdjust="spacingAndGlyphs">Lab</text>
<path d="M107 760 L100.16 782.24" stroke="#151515" stroke-width="2.2" fill="none"/><path d="M97.9 789.6 L95.88 777.47 L99.9 783.08 L106.39 780.7 Z" fill="#151515" stroke="#151515" stroke-width="1.2" stroke-linejoin="miter"/>
<path d="M136 760 L145.7 782.53" stroke="#151515" stroke-width="2.2" fill="none"/><path d="M148.75 789.6 L139.35 781.67 L146.05 783.34 L149.45 777.32 Z" fill="#151515" stroke="#151515" stroke-width="1.2" stroke-linejoin="miter"/>
<rect x="61.5" y="710.5" width="121" height="47" rx="8" fill="#fff" stroke="#151515" stroke-width="3"/>
<rect x="65.3" y="714.3" width="113.4" height="39.4" rx="4" fill="url(#dotsB)" stroke="#151515" stroke-width="1.4"/>
<rect x="67.5" y="716.5" width="109" height="35" rx="14" fill="#fff" filter="url(#bl15)"/>
<text x="122" y="741.6" font-size="21" text-anchor="middle" class="bx" textLength="104.7" lengthAdjust="spacingAndGlyphs">Maintenance</text>
<ellipse cx="86.9" cy="815.6" rx="23.8" ry="23.8" fill="#fff" stroke="#151515" stroke-width="2.7"/>
<ellipse cx="86.9" cy="815.6" rx="20.2" ry="20.2" fill="url(#dotsC)" stroke="#151515" stroke-width="1.1"/>
<ellipse cx="86.9" cy="815.6" rx="17.3" ry="17.3" fill="#fff" filter="url(#bl2)"/>
<text x="86.9" y="820.4" font-size="14" text-anchor="middle" class="ct" textLength="29" lengthAdjust="spacingAndGlyphs">Ecap.</text>
<ellipse cx="158.75" cy="815.6" rx="23.8" ry="23.8" fill="#fff" stroke="#151515" stroke-width="2.7"/>
<ellipse cx="158.75" cy="815.6" rx="20.2" ry="20.2" fill="url(#dotsC)" stroke="#151515" stroke-width="1.1"/>
<ellipse cx="158.75" cy="815.6" rx="17.3" ry="17.3" fill="#fff" filter="url(#bl2)"/>
<text x="158.75" y="820.4" font-size="14" text-anchor="middle" class="ct" textLength="26" lengthAdjust="spacingAndGlyphs">S.ap.</text>
<path d="M258.5 844 L251.71 860.62" stroke="#151515" stroke-width="2.2" fill="none"/><path d="M248.8 867.75 L247.87 855.49 L251.38 861.44 L258.05 859.65 Z" fill="#151515" stroke="#151515" stroke-width="1.2" stroke-linejoin="miter"/>
<path d="M287.5 844 L294.89 860.71" stroke="#151515" stroke-width="2.2" fill="none"/><path d="M298 867.75 L288.52 859.91 L295.24 861.51 L298.58 855.47 Z" fill="#151515" stroke="#151515" stroke-width="1.2" stroke-linejoin="miter"/>
<rect x="218.5" y="792.5" width="110" height="49" rx="8" fill="#fff" stroke="#151515" stroke-width="3"/>
<rect x="222.3" y="796.3" width="102.4" height="41.4" rx="4" fill="url(#dotsB)" stroke="#151515" stroke-width="1.4"/>
<rect x="224.5" y="798.5" width="98" height="37" rx="14" fill="#fff" filter="url(#bl15)"/>
<text x="273.5" y="824.4" font-size="21" text-anchor="middle" class="bx" textLength="49" lengthAdjust="spacingAndGlyphs">Travel</text>
<ellipse cx="237.8" cy="893.75" rx="23.8" ry="23.8" fill="#fff" stroke="#151515" stroke-width="2.7"/>
<ellipse cx="237.8" cy="893.75" rx="20.2" ry="20.2" fill="url(#dotsC)" stroke="#151515" stroke-width="1.1"/>
<ellipse cx="237.8" cy="893.75" rx="17.3" ry="17.3" fill="#fff" filter="url(#bl2)"/>
<text x="237.8" y="898.55" font-size="14" text-anchor="middle" class="ct" textLength="26" lengthAdjust="spacingAndGlyphs">Trav.</text>
<ellipse cx="308" cy="893.75" rx="23.8" ry="23.8" fill="#fff" stroke="#151515" stroke-width="2.7"/>
<ellipse cx="308" cy="893.75" rx="20.2" ry="20.2" fill="url(#dotsC)" stroke="#151515" stroke-width="1.1"/>
<ellipse cx="308" cy="893.75" rx="17.3" ry="17.3" fill="#fff" filter="url(#bl2)"/>
<text x="308" y="898.55" font-size="14" text-anchor="middle" class="ct" textLength="28" lengthAdjust="spacingAndGlyphs">Yeed.</text>
<path d="M426 570 L414.93 588.63" stroke="#151515" stroke-width="2.2" fill="none"/><path d="M411 595.25 L411.89 582.98 L414.48 589.39 L421.35 588.6 Z" fill="#151515" stroke="#151515" stroke-width="1.2" stroke-linejoin="miter"/>
<path d="M455 570 L463.03 587.45" stroke="#151515" stroke-width="2.2" fill="none"/><path d="M466.25 594.45 L456.66 586.76 L463.4 588.25 L466.65 582.16 Z" fill="#151515" stroke="#151515" stroke-width="1.2" stroke-linejoin="miter"/>
<rect x="388.5" y="510.5" width="105" height="57" rx="8" fill="#fff" stroke="#151515" stroke-width="3"/>
<rect x="392.3" y="514.3" width="97.4" height="49.4" rx="4" fill="url(#dotsB)" stroke="#151515" stroke-width="1.4"/>
<rect x="394.5" y="516.5" width="93" height="45" rx="14" fill="#fff" filter="url(#bl15)"/>
<text x="441" y="536" font-size="21" text-anchor="middle" class="bx" textLength="79" lengthAdjust="spacingAndGlyphs">Employee</text>
<text x="441" y="556.3" font-size="21" text-anchor="middle" class="bx" textLength="67" lengthAdjust="spacingAndGlyphs">Benefits</text>
<ellipse cx="400" cy="621.25" rx="23.8" ry="23.8" fill="#fff" stroke="#151515" stroke-width="2.7"/>
<ellipse cx="400" cy="621.25" rx="20.2" ry="20.2" fill="url(#dotsC)" stroke="#151515" stroke-width="1.1"/>
<ellipse cx="400" cy="621.25" rx="17.3" ry="17.3" fill="#fff" filter="url(#bl2)"/>
<text x="400" y="626.05" font-size="14" text-anchor="middle" class="ct" textLength="35.6" lengthAdjust="spacingAndGlyphs">Health</text>
<ellipse cx="476.25" cy="621.25" rx="31.6" ry="24.6" fill="#fff" stroke="#151515" stroke-width="2.7"/>
<ellipse cx="476.25" cy="621.25" rx="28" ry="21" fill="url(#dotsC)" stroke="#151515" stroke-width="1.1"/>
<ellipse cx="476.25" cy="621.25" rx="25.1" ry="18.1" fill="#fff" filter="url(#bl2)"/>
<text x="476.25" y="626.05" font-size="14" text-anchor="middle" class="ct" textLength="60" lengthAdjust="spacingAndGlyphs">Retirement</text>
<path d="M580.5 649 L570.91 671.61" stroke="#151515" stroke-width="2.2" fill="none"/><path d="M567.9 678.7 L567.13 666.43 L570.56 672.42 L577.26 670.72 Z" fill="#151515" stroke="#151515" stroke-width="1.2" stroke-linejoin="miter"/>
<path d="M609.5 649 L620.14 671.73" stroke="#151515" stroke-width="2.2" fill="none"/><path d="M623.4 678.7 L613.76 671.07 L620.51 672.52 L623.72 666.41 Z" fill="#151515" stroke="#151515" stroke-width="1.2" stroke-linejoin="miter"/>
<rect x="541.5" y="598.5" width="108" height="48" rx="8" fill="#fff" stroke="#151515" stroke-width="3"/>
<rect x="545.3" y="602.3" width="100.4" height="40.4" rx="4" fill="url(#dotsB)" stroke="#151515" stroke-width="1.4"/>
<rect x="547.5" y="604.5" width="96" height="36" rx="14" fill="#fff" filter="url(#bl15)"/>
<text x="595.5" y="629.5" font-size="21" text-anchor="middle" class="bx" textLength="87.7" lengthAdjust="spacingAndGlyphs">Equipment</text>
<ellipse cx="556.9" cy="704.7" rx="30.8" ry="23.8" fill="#fff" stroke="#151515" stroke-width="2.7"/>
<ellipse cx="556.9" cy="704.7" rx="27.2" ry="20.2" fill="url(#dotsC)" stroke="#151515" stroke-width="1.1"/>
<ellipse cx="556.9" cy="704.7" rx="24.3" ry="17.3" fill="#fff" filter="url(#bl2)"/>
<text x="556.9" y="709.5" font-size="14" text-anchor="middle" class="ct" textLength="57" lengthAdjust="spacingAndGlyphs">Computers</text>
<ellipse cx="633.4" cy="704.7" rx="24.3" ry="23.8" fill="#fff" stroke="#151515" stroke-width="2.7"/>
<ellipse cx="633.4" cy="704.7" rx="20.7" ry="20.2" fill="url(#dotsC)" stroke="#151515" stroke-width="1.1"/>
<ellipse cx="633.4" cy="704.7" rx="17.8" ry="17.3" fill="#fff" filter="url(#bl2)"/>
<text x="633.4" y="709.5" font-size="14" text-anchor="middle" class="ct" textLength="44" lengthAdjust="spacingAndGlyphs">Vehicles</text>
<path d="M427 761 L420.54 778.67" stroke="#151515" stroke-width="2.2" fill="none"/><path d="M417.9 785.9 L416.51 773.68 L420.24 779.49 L426.84 777.46 Z" fill="#151515" stroke="#151515" stroke-width="1.2" stroke-linejoin="miter"/>
<path d="M456 761 L464.66 778.96" stroke="#151515" stroke-width="2.2" fill="none"/><path d="M468 785.9 L458.27 778.38 L465.04 779.76 L468.18 773.6 Z" fill="#151515" stroke="#151515" stroke-width="1.2" stroke-linejoin="miter"/>
<rect x="387.5" y="711.5" width="109" height="47" rx="8" fill="#fff" stroke="#151515" stroke-width="3"/>
<rect x="391.3" y="715.3" width="101.4" height="39.4" rx="4" fill="url(#dotsB)" stroke="#151515" stroke-width="1.4"/>
<rect x="393.5" y="717.5" width="97" height="35" rx="14" fill="#fff" filter="url(#bl15)"/>
<text x="442" y="741.9" font-size="21" text-anchor="middle" class="bx" textLength="72.75" lengthAdjust="spacingAndGlyphs">Facilities</text>
<ellipse cx="406.9" cy="811.9" rx="23.8" ry="23.8" fill="#fff" stroke="#151515" stroke-width="2.7"/>
<ellipse cx="406.9" cy="811.9" rx="20.2" ry="20.2" fill="url(#dotsC)" stroke="#151515" stroke-width="1.1"/>
<ellipse cx="406.9" cy="811.9" rx="17.3" ry="17.3" fill="#fff" filter="url(#bl2)"/>
<text x="406.9" y="816.7" font-size="14" text-anchor="middle" class="ct" textLength="14" lengthAdjust="spacingAndGlyphs">HV</text>
<ellipse cx="478" cy="811.9" rx="23.8" ry="23.8" fill="#fff" stroke="#151515" stroke-width="2.7"/>
<ellipse cx="478" cy="811.9" rx="20.2" ry="20.2" fill="url(#dotsC)" stroke="#151515" stroke-width="1.1"/>
<ellipse cx="478" cy="811.9" rx="17.3" ry="17.3" fill="#fff" filter="url(#bl2)"/>
<text x="478" y="816.7" font-size="14" text-anchor="middle" class="ct" textLength="19.4" lengthAdjust="spacingAndGlyphs">LDX</text>
<path d="M571.5 844 L565.04 860.57" stroke="#151515" stroke-width="2.2" fill="none"/><path d="M562.25 867.75 L561.12 855.5 L564.73 861.39 L571.37 859.5 Z" fill="#151515" stroke="#151515" stroke-width="1.2" stroke-linejoin="miter"/>
<path d="M600.5 844 L608.57 860.81" stroke="#151515" stroke-width="2.2" fill="none"/><path d="M611.9 867.75 L602.18 860.21 L608.95 861.6 L612.1 855.45 Z" fill="#151515" stroke="#151515" stroke-width="1.2" stroke-linejoin="miter"/>
<rect x="530.5" y="792.5" width="112" height="49" rx="8" fill="#fff" stroke="#151515" stroke-width="3"/>
<rect x="534.3" y="796.3" width="104.4" height="41.4" rx="4" fill="url(#dotsB)" stroke="#151515" stroke-width="1.4"/>
<rect x="536.5" y="798.5" width="100" height="37" rx="14" fill="#fff" filter="url(#bl15)"/>
<text x="586.5" y="823.9" font-size="21" text-anchor="middle" class="bx" textLength="72.8" lengthAdjust="spacingAndGlyphs">Software</text>
<ellipse cx="551.25" cy="893.75" rx="23.8" ry="23.8" fill="#fff" stroke="#151515" stroke-width="2.7"/>
<ellipse cx="551.25" cy="893.75" rx="20.2" ry="20.2" fill="url(#dotsC)" stroke="#151515" stroke-width="1.1"/>
<ellipse cx="551.25" cy="893.75" rx="17.3" ry="17.3" fill="#fff" filter="url(#bl2)"/>
<text x="551.25" y="898.55" font-size="14" text-anchor="middle" class="ct" textLength="25" lengthAdjust="spacingAndGlyphs">Data</text>
<ellipse cx="621.9" cy="893.75" rx="23.8" ry="23.8" fill="#fff" stroke="#151515" stroke-width="2.7"/>
<ellipse cx="621.9" cy="893.75" rx="20.2" ry="20.2" fill="url(#dotsC)" stroke="#151515" stroke-width="1.1"/>
<ellipse cx="621.9" cy="893.75" rx="17.3" ry="17.3" fill="#fff" filter="url(#bl2)"/>
<text x="621.9" y="898.55" font-size="14" text-anchor="middle" class="ct" textLength="12.5" lengthAdjust="spacingAndGlyphs">...</text>
<path d="M750 570 L740.77 590.38" stroke="#151515" stroke-width="2.2" fill="none"/><path d="M737.6 597.4 L737.12 585.11 L740.41 591.19 L747.15 589.65 Z" fill="#151515" stroke="#151515" stroke-width="1.2" stroke-linejoin="miter"/>
<path d="M779 570 L788.62 590.43" stroke="#151515" stroke-width="2.2" fill="none"/><path d="M791.9 597.4 L782.24 589.79 L788.99 591.23 L792.19 585.11 Z" fill="#151515" stroke="#151515" stroke-width="1.2" stroke-linejoin="miter"/>
<rect x="712.5" y="510.5" width="105" height="57" rx="8" fill="#fff" stroke="#151515" stroke-width="3"/>
<rect x="716.3" y="514.3" width="97.4" height="49.4" rx="4" fill="url(#dotsB)" stroke="#151515" stroke-width="1.4"/>
<rect x="718.5" y="516.5" width="93" height="45" rx="14" fill="#fff" filter="url(#bl15)"/>
<text x="765" y="536.6" font-size="21" text-anchor="middle" class="bx" textLength="73.6" lengthAdjust="spacingAndGlyphs">Research</text>
<text x="765" y="556.3" font-size="21" text-anchor="middle" class="bx" textLength="52.6" lengthAdjust="spacingAndGlyphs">Grants</text>
<ellipse cx="726.6" cy="623.4" rx="23.8" ry="23.8" fill="#fff" stroke="#151515" stroke-width="2.7"/>
<ellipse cx="726.6" cy="623.4" rx="20.2" ry="20.2" fill="url(#dotsC)" stroke="#151515" stroke-width="1.1"/>
<ellipse cx="726.6" cy="623.4" rx="17.3" ry="17.3" fill="#fff" filter="url(#bl2)"/>
<text x="726.6" y="628.2" font-size="14" text-anchor="middle" class="ct" textLength="40" lengthAdjust="spacingAndGlyphs">Federal</text>
<ellipse cx="801.9" cy="623.4" rx="23.8" ry="23.8" fill="#fff" stroke="#151515" stroke-width="2.7"/>
<ellipse cx="801.9" cy="623.4" rx="20.2" ry="20.2" fill="url(#dotsC)" stroke="#151515" stroke-width="1.1"/>
<ellipse cx="801.9" cy="623.4" rx="17.3" ry="17.3" fill="#fff" filter="url(#bl2)"/>
<text x="801.9" y="628.2" font-size="14" text-anchor="middle" class="ct" textLength="37.5" lengthAdjust="spacingAndGlyphs">Private</text>
<path d="M899 649 L891.2 665.44" stroke="#151515" stroke-width="2.2" fill="none"/><path d="M887.9 672.4 L887.65 660.1 L890.82 666.24 L897.58 664.82 Z" fill="#151515" stroke="#151515" stroke-width="1.2" stroke-linejoin="miter"/>
<path d="M928 649 L937.26 665.67" stroke="#151515" stroke-width="2.2" fill="none"/><path d="M941 672.4 L930.85 665.46 L937.69 666.44 L940.47 660.11 Z" fill="#151515" stroke="#151515" stroke-width="1.2" stroke-linejoin="miter"/>
<rect x="860.5" y="591.5" width="107" height="55" rx="8" fill="#fff" stroke="#151515" stroke-width="3"/>
<rect x="864.3" y="595.3" width="99.4" height="47.4" rx="4" fill="url(#dotsB)" stroke="#151515" stroke-width="1.4"/>
<rect x="866.5" y="597.5" width="95" height="43" rx="14" fill="#fff" filter="url(#bl15)"/>
<text x="914" y="616.3" font-size="21" text-anchor="middle" class="bx" textLength="68.3" lengthAdjust="spacingAndGlyphs">Contract</text>
<text x="914" y="636.6" font-size="21" text-anchor="middle" class="bx" textLength="65.6" lengthAdjust="spacingAndGlyphs">Services</text>
<ellipse cx="876.9" cy="698.4" rx="30.1" ry="23.8" fill="#fff" stroke="#151515" stroke-width="2.7"/>
<ellipse cx="876.9" cy="698.4" rx="26.5" ry="20.2" fill="url(#dotsC)" stroke="#151515" stroke-width="1.1"/>
<ellipse cx="876.9" cy="698.4" rx="23.6" ry="17.3" fill="#fff" filter="url(#bl2)"/>
<text x="876.9" y="703.2" font-size="14" text-anchor="middle" class="ct" textLength="56" lengthAdjust="spacingAndGlyphs">Consulting</text>
<ellipse cx="951" cy="698.4" rx="23.8" ry="23.8" fill="#fff" stroke="#151515" stroke-width="2.7"/>
<ellipse cx="951" cy="698.4" rx="20.2" ry="20.2" fill="url(#dotsC)" stroke="#151515" stroke-width="1.1"/>
<ellipse cx="951" cy="698.4" rx="17.3" ry="17.3" fill="#fff" filter="url(#bl2)"/>
<text x="951" y="703.2" font-size="14" text-anchor="middle" class="ct" textLength="28" lengthAdjust="spacingAndGlyphs">Legal</text>
<path d="M760 760 L754.41 783.12" stroke="#151515" stroke-width="2.2" fill="none"/><path d="M752.6 790.6 L749.84 778.62 L754.2 783.97 L760.53 781.2 Z" fill="#151515" stroke="#151515" stroke-width="1.2" stroke-linejoin="miter"/>
<rect x="711.5" y="711.5" width="116" height="46" rx="8" fill="#fff" stroke="#151515" stroke-width="3"/>
<rect x="715.3" y="715.3" width="108.4" height="38.4" rx="4" fill="url(#dotsB)" stroke="#151515" stroke-width="1.4"/>
<rect x="717.5" y="717.5" width="104" height="34" rx="14" fill="#fff" filter="url(#bl15)"/>
<text x="769.5" y="741.6" font-size="21" text-anchor="middle" class="bx" textLength="101" lengthAdjust="spacingAndGlyphs">Contingency</text>
<ellipse cx="745.6" cy="816.6" rx="23.8" ry="23.8" fill="#fff" stroke="#151515" stroke-width="2.7"/>
<ellipse cx="745.6" cy="816.6" rx="20.2" ry="20.2" fill="url(#dotsC)" stroke="#151515" stroke-width="1.1"/>
<ellipse cx="745.6" cy="816.6" rx="17.3" ry="17.3" fill="#fff" filter="url(#bl2)"/>
<text x="745.6" y="821.4" font-size="14" text-anchor="middle" class="ct" textLength="39" lengthAdjust="spacingAndGlyphs">Pyselst</text>
<path d="M872.5 844 L869.1 861.15" stroke="#151515" stroke-width="2.2" fill="none"/><path d="M867.6 868.7 L864.35 856.84 L868.93 862.01 L875.14 858.98 Z" fill="#151515" stroke="#151515" stroke-width="1.2" stroke-linejoin="miter"/>
<path d="M901.5 844 L908.42 861.54" stroke="#151515" stroke-width="2.2" fill="none"/><path d="M911.25 868.7 L902.1 860.49 L908.75 862.36 L912.33 856.45 Z" fill="#151515" stroke="#151515" stroke-width="1.2" stroke-linejoin="miter"/>
<rect x="821.5" y="792.5" width="132" height="49" rx="8" fill="#fff" stroke="#151515" stroke-width="3"/>
<rect x="825.3" y="796.3" width="124.4" height="41.4" rx="4" fill="url(#dotsB)" stroke="#151515" stroke-width="1.4"/>
<rect x="827.5" y="798.5" width="120" height="37" rx="14" fill="#fff" filter="url(#bl15)"/>
<text x="887.5" y="824.4" font-size="21" text-anchor="middle" class="bx" textLength="115" lengthAdjust="spacingAndGlyphs">Miscellaneous</text>
<ellipse cx="856.6" cy="894.7" rx="23.8" ry="23.8" fill="#fff" stroke="#151515" stroke-width="2.7"/>
<ellipse cx="856.6" cy="894.7" rx="20.2" ry="20.2" fill="url(#dotsC)" stroke="#151515" stroke-width="1.1"/>
<ellipse cx="856.6" cy="894.7" rx="17.3" ry="17.3" fill="#fff" filter="url(#bl2)"/>
<text x="856.6" y="899.5" font-size="14" text-anchor="middle" class="ct" textLength="38" lengthAdjust="spacingAndGlyphs">Private</text>
<ellipse cx="921.25" cy="894.7" rx="23.8" ry="23.8" fill="#fff" stroke="#151515" stroke-width="2.7"/>
<ellipse cx="921.25" cy="894.7" rx="20.2" ry="20.2" fill="url(#dotsC)" stroke="#151515" stroke-width="1.1"/>
<ellipse cx="921.25" cy="894.7" rx="17.3" ry="17.3" fill="#fff" filter="url(#bl2)"/>
<text x="921.25" y="899.5" font-size="14" text-anchor="middle" class="ct" textLength="18.7" lengthAdjust="spacingAndGlyphs">----</text>
<g>
<path d="M100 1000 C110 975 130 960 160 958 L175 958 L175 1000 Z" fill="url(#dotsD)"/>
<path d="M96 985 C110 960 140 960 150 975 C158 990 140 998 132 988 C126 980 134 972 140 978" stroke="#151515" stroke-width="8.5" fill="none" stroke-linecap="round"/><path d="M96 985 C110 960 140 960 150 975 C158 990 140 998 132 988 C126 980 134 972 140 978" stroke="#fff" stroke-width="4.7" fill="none" stroke-linecap="round"/><path d="M96 985 C110 960 140 960 150 975 C158 990 140 998 132 988 C126 980 134 972 140 978" stroke="#151515" stroke-width="0.9" fill="none" stroke-dasharray="0.9 1.5"/>
<path d="M120 1000 C140 985 165 990 180 998 C195 1004 210 996 212 988 C214 980 205 978 203 984" stroke="#151515" stroke-width="8.5" fill="none" stroke-linecap="round"/><path d="M120 1000 C140 985 165 990 180 998 C195 1004 210 996 212 988 C214 980 205 978 203 984" stroke="#fff" stroke-width="4.7" fill="none" stroke-linecap="round"/><path d="M120 1000 C140 985 165 990 180 998 C195 1004 210 996 212 988 C214 980 205 978 203 984" stroke="#151515" stroke-width="0.9" fill="none" stroke-dasharray="0.9 1.5"/>
<path d="M150 968 C148 960 156 956 160 960 C163 964 158 968 155 966" stroke="#151515" stroke-width="7" fill="none" stroke-linecap="round"/><path d="M150 968 C148 960 156 956 160 960 C163 964 158 968 155 966" stroke="#fff" stroke-width="3.2" fill="none" stroke-linecap="round"/><path d="M150 968 C148 960 156 956 160 960 C163 964 158 968 155 966" stroke="#151515" stroke-width="0.9" fill="none" stroke-dasharray="0.9 1.5"/>
</g>
<g transform="translate(1024 0) scale(-1 1)">
<path d="M100 1000 C110 975 130 960 160 958 L175 958 L175 1000 Z" fill="url(#dotsD)"/>
<path d="M96 985 C110 960 140 960 150 975 C158 990 140 998 132 988 C126 980 134 972 140 978" stroke="#151515" stroke-width="8.5" fill="none" stroke-linecap="round"/><path d="M96 985 C110 960 140 960 150 975 C158 990 140 998 132 988 C126 980 134 972 140 978" stroke="#fff" stroke-width="4.7" fill="none" stroke-linecap="round"/><path d="M96 985 C110 960 140 960 150 975 C158 990 140 998 132 988 C126 980 134 972 140 978" stroke="#151515" stroke-width="0.9" fill="none" stroke-dasharray="0.9 1.5"/>
<path d="M120 1000 C140 985 165 990 180 998 C195 1004 210 996 212 988 C214 980 205 978 203 984" stroke="#151515" stroke-width="8.5" fill="none" stroke-linecap="round"/><path d="M120 1000 C140 985 165 990 180 998 C195 1004 210 996 212 988 C214 980 205 978 203 984" stroke="#fff" stroke-width="4.7" fill="none" stroke-linecap="round"/><path d="M120 1000 C140 985 165 990 180 998 C195 1004 210 996 212 988 C214 980 205 978 203 984" stroke="#151515" stroke-width="0.9" fill="none" stroke-dasharray="0.9 1.5"/>
<path d="M150 968 C148 960 156 956 160 960 C163 964 158 968 155 966" stroke="#151515" stroke-width="7" fill="none" stroke-linecap="round"/><path d="M150 968 C148 960 156 956 160 960 C163 964 158 968 155 966" stroke="#fff" stroke-width="3.2" fill="none" stroke-linecap="round"/><path d="M150 968 C148 960 156 956 160 960 C163 964 158 968 155 966" stroke="#151515" stroke-width="0.9" fill="none" stroke-dasharray="0.9 1.5"/>
</g>
<path d="M178 948.4 L846 948.4 C846 956 852 962 862 963 L862 985 C852 986 846 990 846 997.4 L178 997.4 C178 990 172 986 162 985 L162 963 C172 962 178 956 178 948.4 Z" fill="#fff" stroke="#151515" stroke-width="3"/>
<path d="M172 953.6 L852 953.6 M172 992.5 L852 992.5" stroke="#151515" stroke-width="1.4"/>
<rect x="160" y="955" width="60" height="36" fill="url(#dotsC)"/>
<rect x="804" y="955" width="60" height="36" fill="url(#dotsC)"/>
<rect x="196" y="952" width="632" height="44" fill="#fff" filter="url(#bl6)"/>
<path d="M178 948.4 L846 948.4 C846 956 852 962 862 963 L862 985 C852 986 846 990 846 997.4 L178 997.4 C178 990 172 986 162 985 L162 963 C172 962 178 956 178 948.4 Z" fill="none" stroke="#151515" stroke-width="3"/>
<path d="M180 953.6 L844 953.6 M180 992.5 L844 992.5" stroke="#151515" stroke-width="1.4"/>
<text x="511" y="984" font-size="27" text-anchor="middle" class="bt" textLength="628" lengthAdjust="spacingAndGlyphs">STRUCTURED REPRESENTATION OF BUDGET CATEGORIES</text>
<rect x="849.5" y="1000.5" width="180" height="30" fill="#fafafa" stroke="#8a8a8a" stroke-width="1"/>
<text x="859.8" y="1016.6" font-size="15.5" class="wm" textLength="153" lengthAdjust="spacingAndGlyphs">WarOnDisease.org</text>
</svg></body></html>
